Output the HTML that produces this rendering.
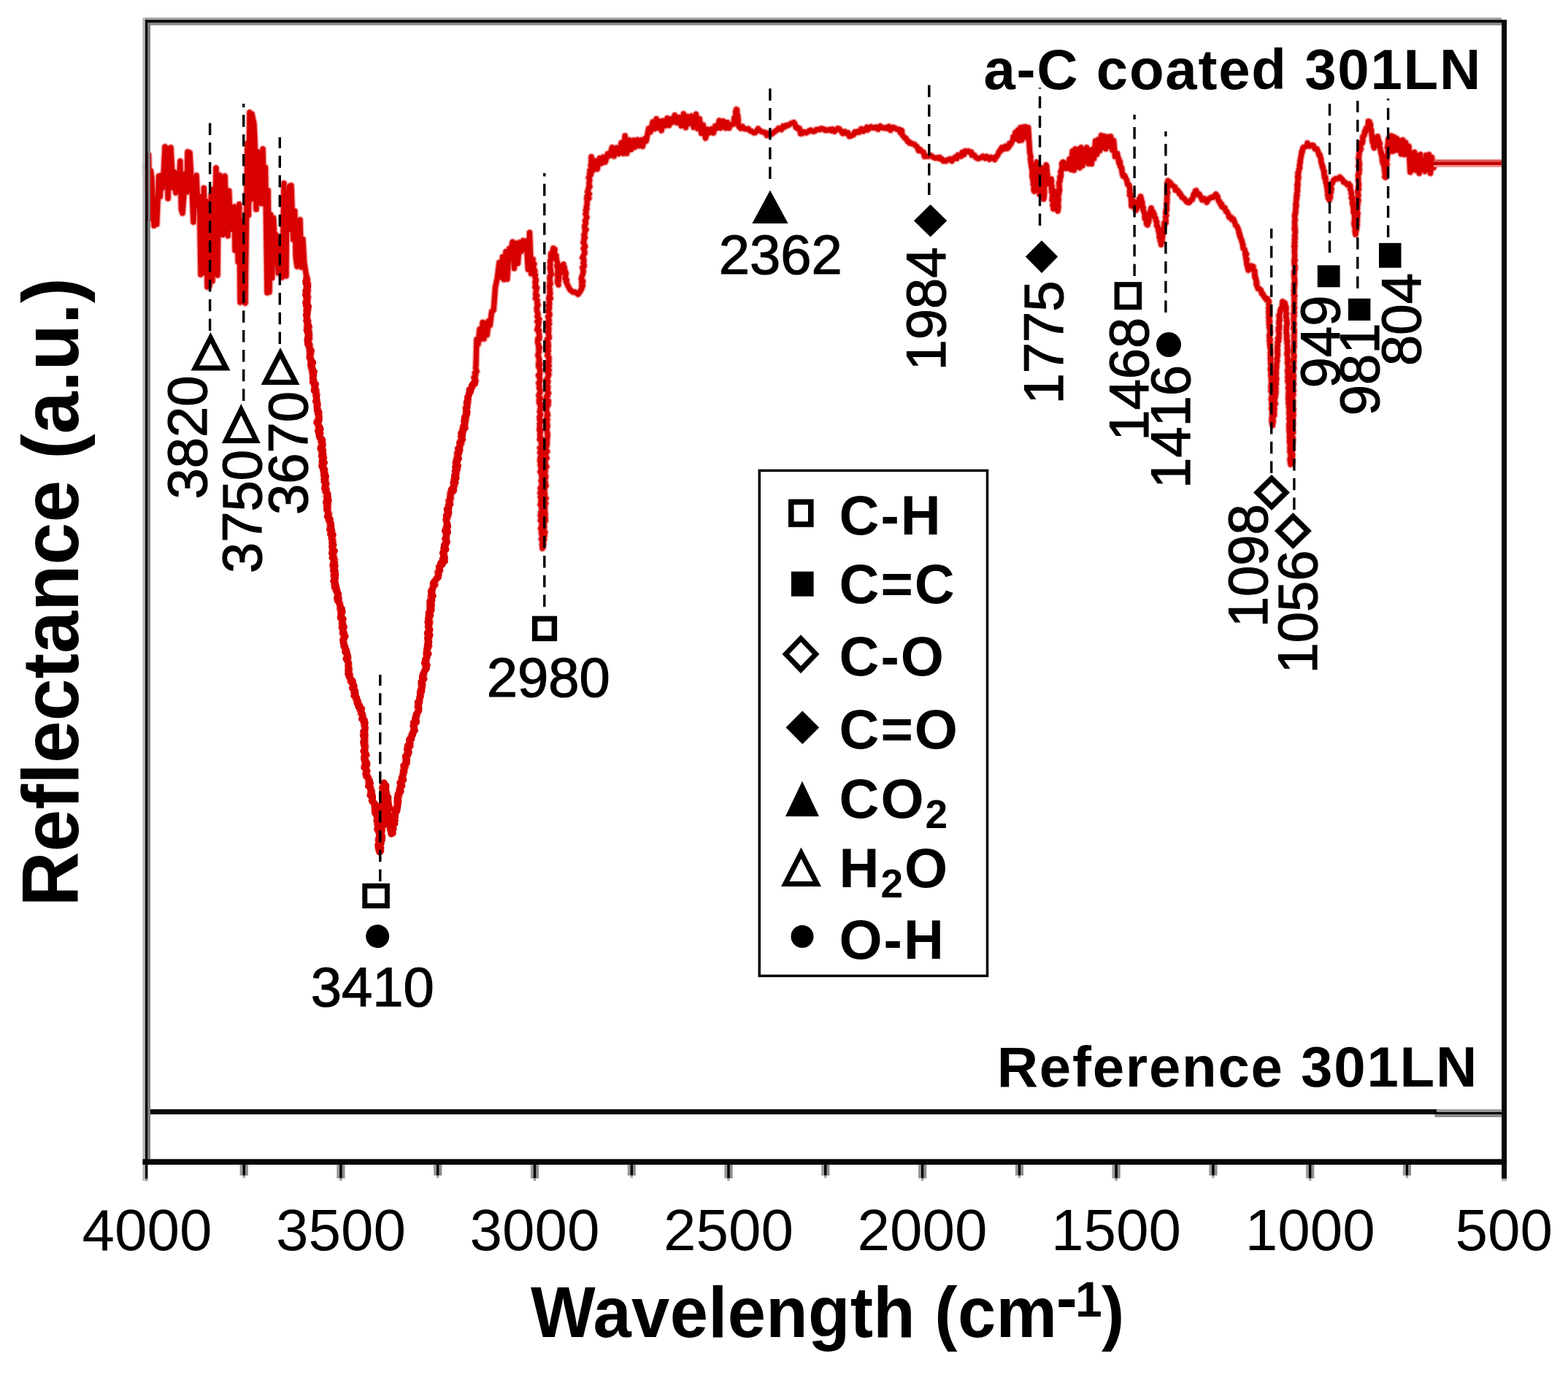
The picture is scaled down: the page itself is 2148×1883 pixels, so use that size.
<!DOCTYPE html>
<html><head><meta charset="utf-8"><title>FTIR spectrum</title><style>
html,body{margin:0;padding:0;background:#fff;width:2148px;height:1883px;overflow:hidden}
svg{display:block}
text{font-family:"Liberation Sans", Arial, sans-serif;fill:#000}
.tk{font-size:80px;text-anchor:middle}
.xt{font-size:94px;font-weight:bold;letter-spacing:0.3px}
.yt{font-size:104px;font-weight:bold;text-anchor:middle}
.tl{font-size:78px;font-weight:bold;text-anchor:end;letter-spacing:1.75px}
.an{font-size:76px;text-anchor:middle;stroke:#000;stroke-width:1.2px}
.lg{font-size:76px;font-weight:bold;letter-spacing:2px}
</style></head><body>
<svg width="2148" height="1883" viewBox="0 0 2148 1883">
<rect width="2148" height="1883" fill="#fff"/>
<path d="M200 224.9 L201.9 262.3 L203.6 212 L205 300 L206.5 234.1 L208 246.1 L211 309 L212.4 288.6 L214.7 307 L217.5 241.2 L219.3 269.2 L220.9 240.1 L222.6 257.7 L224.2 236.8 L226 201 L227.9 229.3 L229 203 L230.1 271.8 L232.1 207.3 L234 202 L235.4 227.5 L237.3 257.5 L239.1 235.8 L240.9 264 L242.8 237.7 L244.9 261.4 L246.8 220.7 L248.4 286.8 L250 292 L252.1 265.2 L253.8 237.7 L255.9 263.1 L257 208 L260 209 L261.4 233.6 L263.3 267.5 L265 304 L267.2 265.1 L269 240.2 L271.2 281.7 L273.2 268.7 L275 376 L276.1 270.5 L277.8 374 L279.3 257.5 L280.8 353.1 L282.3 275.3 L284 393 L287 392 L289.2 267 L291 385 L292.2 259.1 L294 338.9 L296 230 L298 377 L299.5 265.4 L301 240 L303.6 280 L305.2 321.5 L306.6 245.9 L308 241 L310 286.7 L312.1 322.9 L313.7 261.2 L315.6 314.2 L317.4 285.8 L318.9 314.3 L320.9 283 L322 343 L324.5 287.2 L326.2 358.8 L327.7 279.7 L329 414 L331.9 302.3 L333 413 L336 415 L339 196 L340.5 294.7 L342 154 L343.9 273.3 L345 156 L348 170 L349.2 196.1 L351 286.8 L353 207.7 L355 277.9 L356.8 237.2 L358.3 278.8 L360 204 L361.8 263.1 L363.5 229.3 L366 401 L367.2 260.7 L369 400 L370.7 293.8 L372.8 380.6 L374.6 298.6 L376 326 L378.1 321.1 L381 374 L382.2 337.1 L384 358.6 L386 380 L387.8 326.8 L389 251 L392 378 L393 266.9 L394.5 315.4 L396.6 254.8 L399 254 L401.6 328.2 L403.8 288.9 L405.2 352.2 L407 365 L408.9 346.6 L411 300.9 L413 366 L414.9 327.5 L416.7 359.1 L420 380 L421.4 383.6 L420.6 386.5 L421.7 387.7 L421 388.4 L421.1 392.3 L421.2 395.5 L419.6 395.9 L421.9 398.7 L420.3 401.9 L419.8 405.9 L422.3 406.6 L421.2 409.3 L420.9 412.1 L419.5 413.8 L419.7 419 L420.8 419 L422.3 424.3 L420.7 423.7 L419.8 426 L421 430 L420.6 431 L420.3 434.1 L421.6 438.9 L422.4 439.7 L421.3 442.6 L421.3 444.4 L420.3 446.7 L423.7 448.7 L422.1 453 L423.6 454 L421.6 456.6 L422.1 459.8 L424.3 463.8 L424.1 463.3 L421.2 468.3 L423 470 L424.8 472.7 L424 473.9 L423.6 480 L425.5 482.6 L426.4 483.3 L425 487 L424 488.3 L425.9 492.8 L427.9 495.5 L427.2 498.2 L427 500 L425.9 503.4 L428 505 L427.3 509 L429.1 509.3 L427.6 511.6 L429.7 515.7 L428.1 516 L429.9 520.3 L429.7 521.5 L430.8 523.2 L430 527.4 L431 530 L433.1 533.1 L433.2 535.1 L431.3 536.8 L434.4 541 L432.4 541.1 L433.6 546.1 L434 548 L433.9 549.8 L434.9 554.9 L433.5 554.3 L434.1 558.4 L435.5 560.2 L436.1 564.9 L435.2 565.6 L437 568.7 L436.7 571 L434.7 575.6 L435.1 579 L436 580 L436.4 581.4 L435.8 584.7 L437.8 589.1 L436.3 589.6 L437 594.2 L437.1 593.4 L437.2 597.1 L440.6 601.4 L440.4 604.3 L440 605 L441.8 606.9 L439.3 611.6 L441.5 610.8 L441.4 614.6 L440.6 616.9 L440.1 618.2 L440.7 622 L443.4 623.6 L443.6 626.4 L441.6 631.2 L443.5 632.3 L440.9 634.9 L442.3 639 L443 640 L442.2 642 L445.1 643.3 L443.7 648.6 L445.3 648.3 L443 650.9 L446.5 654.1 L446.2 658.9 L445.1 659.2 L447.6 662.9 L445.5 665.8 L446 666.7 L447 670 L445.4 673.4 L448.8 675.5 L449.1 675.8 L446.7 679.9 L449.5 684.1 L447.6 684.1 L447.9 687.5 L449.9 688.9 L449.6 693.4 L449.8 696 L449.2 696.9 L449 700 L448.9 702 L451 703.5 L449.4 708.4 L450.1 708.4 L449.8 712.7 L452 715 L451.7 719.2 L454.1 721.8 L452.3 721 L452 725 L454.6 727.3 L453.3 729.7 L455.1 733.1 L455 735 L456.1 738.7 L455.9 738.6 L456.7 741.8 L455.9 744.5 L456.7 746.4 L455.1 749.1 L454.9 753.9 L456.6 754.4 L456.1 759.3 L456.7 759 L457.9 763.1 L457 765 L458.9 766.2 L457.1 771.4 L458.5 774.4 L455.7 774.8 L456.1 777.1 L459.2 781.1 L459.2 783 L459 785.9 L457 789.7 L459.5 789.9 L458 794 L458.9 797 L458.1 798.7 L458.4 800.6 L459.4 804.6 L461.4 805.8 L459.7 808.8 L462 812 L463.2 813.4 L462.5 816.1 L464.8 819.9 L462.7 820.9 L464.5 825 L465.9 826 L466 830 L465.2 833.5 L466.4 834.7 L466.4 839.9 L466.8 841.2 L467.4 843.4 L469.6 848.3 L468.1 848.2 L469 852 L470.1 853.5 L467.8 858.6 L469.6 860.9 L469.8 863.7 L470.3 863.6 L469 867.6 L471 870 L471.8 874.2 L470.1 875.9 L471.4 878.2 L470.9 880.1 L472.5 885.1 L471.3 886.3 L473 889 L474.6 893.3 L472.9 893 L476.1 898.7 L474.9 898.1 L477 901.9 L476 905 L477.8 907.9 L477.8 908.8 L478 911.5 L477 916.2 L478.9 916.4 L478 920 L477.7 922.1 L479.4 924.6 L478.6 926.6 L481.5 931.4 L479.7 932.7 L482 935 L483.5 935.9 L484.4 938.8 L484.2 943 L484.9 944.7 L485 948 L485.7 950.7 L486.7 953.4 L487.8 955 L487.3 958 L490 960 L490.8 961.5 L492.6 966 L492.3 966.3 L493.2 968.6 L492.8 972.3 L495 975 L494.1 977.4 L496.2 978.5 L497.3 981.3 L498.2 986.4 L498 988 L498.2 989.1 L498.3 993.1 L500 994.9 L499.8 1000.8 L499.5 1002.9 L497.6 1006.2 L498.8 1008.9 L499 1010 L500.6 1011.3 L500.3 1016.6 L497.8 1017 L500.4 1018.8 L501.1 1021.7 L500.9 1023.7 L499.9 1029 L500 1030 L499.1 1031.7 L500.2 1034.5 L498.7 1036.5 L499.2 1041.8 L501.2 1044.2 L499.5 1046.4 L499.4 1048 L501.4 1049.9 L501 1053 L502.9 1055.6 L502.4 1059.3 L501.2 1062.1 L503.7 1062.4 L504.8 1064.4 L506.1 1067.9 L504.4 1071.1 L505.2 1071.4 L506 1075 L507.4 1075.9 L508.2 1079.1 L508 1084.2 L508.3 1085.6 L507.8 1085.7 L507.3 1088.7 L509.9 1092.3 L510 1095 L511 1098.9 L510.7 1099 L513.6 1100.8 L514 1105 L512.7 1107 L513.6 1109.5 L514.5 1112.8 L516.3 1113.9 L516.9 1117.4 L517 1120 L515.9 1124.1 L516.6 1123.7 L516.3 1128 L519.3 1131 L517.9 1131.7 L516.7 1135.5 L519 1137 L519 1140 L519.6 1142.5 L520.8 1146.2 L518.4 1149.6 L517.8 1150.9 L519.2 1152.6 L518 1157.2 L517.9 1159.1 L521.4 1160.3 L518.8 1164.7 L520 1167 L520.2 1164.9 L521.6 1160.5 L520 1158.4 L519.2 1157.8 L522.1 1154.6 L519.5 1152.4 L522.4 1148.4 L522.6 1145.7 L520.9 1141.8 L521.2 1138.9 L521.8 1138.8 L523.3 1136.5 L523.5 1131.8 L523 1130 L523.3 1127.2 L524.3 1125 L522.5 1122.9 L525.2 1118.9 L525 1115.6 L522.9 1113.9 L524.8 1113.9 L524.9 1109.2 L525.5 1106.7 L523.4 1106.2 L524.9 1103 L525.2 1101.5 L524.6 1098.4 L525.5 1096 L524.7 1093 L525.3 1089 L524.2 1087.6 L523.8 1086.1 L524.2 1080.4 L524.2 1081.1 L525.2 1075.8 L524.2 1072.9 L526 1072 L527.3 1075.1 L527.9 1078 L526.2 1080 L527.8 1083.4 L530 1086.3 L527.9 1088.8 L530 1090 L531.8 1094.1 L529.1 1094 L529.4 1096 L532.3 1101.3 L531.8 1103.9 L532.1 1104.5 L530.5 1106.4 L533.1 1109.3 L531.8 1112.6 L531 1114.6 L533 1118 L532.6 1121.4 L533.2 1122.7 L535.7 1126 L535.6 1129.1 L533 1131 L534.8 1135 L534.8 1137.4 L535.8 1138.3 L536 1142 L537.8 1138 L538.2 1135.8 L535.7 1133.4 L538.9 1133.7 L536.7 1129.5 L539 1128.1 L538.4 1124.5 L540 1122 L539.9 1120.5 L540 1118.3 L540.6 1113 L542.5 1111.3 L540.8 1109.2 L541.2 1107 L543.8 1104.4 L544 1100.1 L544 1098 L544.2 1095 L546.5 1091.4 L547.1 1088.6 L545.2 1086.9 L548.3 1085.1 L547 1084 L548 1080 L547.6 1077.3 L549.3 1075.8 L550.6 1072.8 L549.7 1069.1 L549.6 1068.4 L552 1065.4 L552 1062 L551.4 1059.1 L554.1 1056.9 L552.4 1053.7 L555.7 1050.2 L553.7 1047.7 L556.2 1047 L556 1043 L555.3 1039.3 L556.1 1037.4 L557.6 1034.3 L557.4 1031.9 L560.2 1031.3 L559 1028 L558.1 1027.1 L558.7 1022.4 L562.5 1021.3 L562.1 1017.5 L560.8 1015.6 L561 1011.5 L563 1010 L563.4 1005.9 L564.2 1006.2 L566.1 1002.8 L566.7 1000.3 L567 998 L566.2 995.7 L567.7 993.5 L570 989.7 L569.3 988.2 L569.2 983.7 L570 982 L571.3 980.5 L572 977.1 L572.8 974.1 L572.5 970.5 L571.8 968.3 L573 965 L572.1 962.2 L575 960.8 L575 956.6 L574.7 954.8 L575.9 952.2 L576 950 L577.1 949 L575.7 945.4 L578.3 941.9 L577.7 941.4 L576.5 937.3 L577.4 935.6 L579 932 L581.2 929.3 L578.8 926.7 L580.9 924.4 L581.4 921.3 L582 918 L583.6 915.5 L582.5 914.5 L582.2 910.9 L583.3 908.7 L582.8 906.9 L584.1 901 L585 900 L584.4 897.1 L583.6 894.7 L585.3 893.2 L585.3 889.2 L585 888.4 L587.8 885.1 L585.4 883.6 L586.2 879 L585.5 878.5 L587 875 L588.2 873 L587.1 870.2 L586.3 869.2 L586.9 865.5 L588.6 863.6 L587.5 859.3 L587.9 856.2 L589 854.5 L589.2 851.7 L588 850 L587.8 846.6 L588.1 843.9 L586.8 843.3 L588 839.1 L588.3 837.4 L588.9 835.5 L590 832 L591.1 831.3 L588.2 828.7 L590 825 L591.8 823.5 L589.5 821.2 L591.6 815.8 L589.7 816.6 L592.4 811.6 L590.8 808.7 L591.7 808.5 L593 805 L593.4 801 L596.5 800.6 L594.8 798.2 L597 794 L598.2 792.3 L599.3 790 L600.6 787.1 L599.3 783.8 L601.4 781.3 L601.9 779.1 L603 775 L605.2 771.7 L607 770 L606.4 766.2 L607.6 763.4 L607.9 761.2 L608.3 760 L608.8 758.8 L607.2 756.2 L609.2 752.7 L610.3 751.2 L609.5 747.2 L612 743.5 L611.2 743 L611 740 L609.4 737.9 L611.9 736.6 L610.7 734.2 L611.4 729.9 L612.9 725.8 L612.4 725.5 L611.1 723.8 L611.3 719.9 L612 718.5 L612 715 L611.1 712.3 L612.1 710.2 L613.7 706.8 L613.8 704.7 L612.8 701.7 L613 700 L613.5 699.2 L614.6 696.1 L613.9 691.8 L614.3 690.3 L616 688.5 L614.3 685.8 L617.9 682.7 L617 680 L616.2 676.9 L616.8 674.1 L620.9 673.2 L620.8 671.4 L621 668 L622.9 665.8 L622.3 663.3 L623 660.6 L623.4 656.7 L623.7 655 L624.5 651.1 L624 650 L623.2 645.8 L625.6 646.5 L625.5 642 L626.4 641 L625.7 636.6 L625.1 634.7 L625.4 632.3 L626.9 631.6 L625.1 627.7 L627 625 L625.8 621.1 L629.1 620.3 L630 617.3 L627.3 614.6 L629.8 614.1 L630 610 L632.3 607.3 L630.8 603.4 L632.2 601.2 L631 598 L631.1 597.8 L632.1 596.3 L634 592 L633.3 590.3 L634.2 584.3 L637 582.1 L637 580 L638.1 576.4 L636 576 L638.7 573.8 L639 568.5 L639 568.3 L638.7 566.6 L638.2 564.2 L640.2 558.2 L638 558 L640 555 L641.6 550.7 L640.3 550.2 L640.3 547.8 L642 542.1 L642 541.1 L643 538 L643.9 536.1 L644.1 534.1 L646 531 L648.1 527.7 L648.4 526.5 L650 523 L651.8 521.5 L650.7 517.1 L649.1 517 L651.6 514 L650.5 510.6 L653.1 508.9 L651.9 504.4 L651.5 504 L652 500 L653 464.7 L655 471.4 L657.1 450.7 L659.2 464.4 L661.2 441.4 L663 464 L664.8 442.2 L667.2 458.8 L669.4 439.5 L671.3 445.7 L673.6 426.6 L676.2 425 L678.5 393.8 L681.3 380.5 L683.9 359.6 L686.4 379.7 L688.5 351.7 L690.4 382.8 L693 344.8 L694.9 382.3 L697.6 340.4 L700.1 341.6 L702.1 331.3 L704.4 367.6 L706.6 333 L709.4 360.7 L711.7 331.9 L714.5 344.2 L716.6 329.5 L718.8 340.6 L721.1 330 L723.4 369.1 L725.5 318.6 L727.7 374.8 L730 355 L729.9 358.1 L730.9 361.3 L731.9 361.8 L729.6 364.2 L731.3 367.8 L732.8 371.2 L730.6 373.6 L733.4 376.2 L732.9 376.8 L733 380 L734.3 383.5 L733.9 386.3 L733 386.2 L733.8 391 L732.9 393.3 L735.4 394.1 L734.5 398.1 L734.2 399.1 L733.7 403.3 L735.6 404.9 L733.5 408.5 L735 410 L736.1 411.6 L735.8 416.3 L737 417.6 L735.9 420.3 L735.3 421.5 L735.5 425.6 L736.3 427.7 L737 430 L736.7 432.6 L736 433.5 L738.7 437.1 L735.9 440.4 L738.2 441.4 L737.6 444.5 L737.4 446 L735.9 451.6 L738.6 452.5 L737.7 454.2 L738.4 457.3 L739 460.9 L738.7 464 L736.9 463.5 L736.8 466.5 L736.5 468.6 L738 473.7 L737.8 476.4 L739.3 476.1 L738 480 L738.4 482.2 L736.9 486.5 L737.4 487.7 L738.7 491.5 L738.9 492.2 L738.2 493.9 L739.9 499.1 L737.6 498.5 L737.8 502 L739.9 506.3 L739.8 506.1 L739.7 510.7 L739.3 514.1 L737.5 513.9 L739.8 518.9 L739.6 519.4 L739.4 523.3 L737.9 524.4 L738.4 526.3 L739.2 528.9 L738.5 531.4 L739.9 533.4 L740.1 536.5 L738 541.4 L738.7 543.9 L740.8 546.2 L738.5 547.3 L738.5 551.4 L740.9 552.9 L739.7 554.5 L741 557.4 L740 560 L740.4 561.4 L739.2 563.6 L740.8 567.7 L739 571.2 L739.4 572.2 L739.1 574.3 L741.3 577 L739.2 580 L739.7 583.8 L739.1 586.5 L738.9 588.8 L740.9 589.1 L740.3 591.8 L739.7 594 L740 599.1 L742.1 601.4 L739.2 601.8 L741.8 603.6 L741.3 606.8 L742.2 608.5 L741.6 612 L739.5 613.4 L741.8 617.6 L739.7 619.8 L742.1 621.6 L741 623.8 L739.8 628.4 L741.6 629 L739.6 631.2 L741.3 635 L740.2 636.6 L741 640 L741.4 643.2 L742.1 645.3 L740.1 646.1 L741.9 649.7 L741.9 651.1 L742.2 654.5 L742.3 658.7 L741.2 658.4 L742.6 662.4 L742.5 664.3 L740.3 668.6 L740.9 668.9 L741 672.8 L739.9 675.1 L741.3 677.6 L740.3 680.7 L742.5 683.7 L741 685.7 L741.2 688.3 L740.2 691.2 L743.1 692.5 L741.7 695.1 L741.8 696 L743.2 699.1 L740.8 701.2 L741 706 L740.3 706.2 L742.5 709 L740.4 712.8 L742.2 715.1 L742.6 716.2 L742 720 L743.3 723.3 L740.7 724 L742.2 727.8 L741.6 729.1 L742.1 731.8 L742.8 736.7 L741.5 738.3 L743.5 739.6 L743.8 744.7 L742.5 745.6 L744 748.5 L743 751 L743 749.7 L744.6 745.2 L743.2 742.5 L744.1 741.9 L745.6 739 L745 735 L746.1 733.6 L743.7 730.1 L746.7 728.9 L744.5 724.8 L745.8 722.1 L745.5 718.6 L745.3 717.5 L744 713.8 L747.1 713.4 L747.1 710.4 L746.7 708.7 L747 703.5 L746.3 701.8 L746.5 699.3 L746.1 698.9 L746.5 694.2 L746.2 692.3 L747.6 689.3 L745.6 688 L745.1 685.3 L747.9 682.5 L745.7 679.9 L746.6 676.4 L745.4 673.8 L746 672.2 L746.1 669.2 L745.5 667.6 L748 665.4 L747.2 663 L747 660 L746.1 658.2 L747 655.2 L747.6 652.4 L746.7 649.2 L746.5 647.5 L747.1 645.3 L745.9 642 L748.7 639.2 L747.8 637.5 L747 636.6 L747.1 633.4 L746.8 628.6 L749.1 627.3 L746.6 624.6 L747.9 623.3 L746.9 619.1 L749.7 618.3 L747.2 614.5 L747.9 613.1 L748.8 611.1 L749.5 607.6 L749.3 605.8 L749.5 602.4 L749.6 600.7 L750.1 596.3 L750 593.4 L749.8 592.8 L749 590 L749 589 L749.3 584.7 L750.1 583.7 L749.5 579.6 L749.1 577.4 L750 574.3 L749 572.7 L749 569.4 L750.4 568.6 L749.5 564.8 L748.5 561.9 L748.5 560.2 L749.9 556.2 L751 554.4 L750.8 553.6 L751.3 549.1 L749.6 548.8 L748.3 543.6 L750.2 542.5 L750 540 L751.4 538.4 L750.2 536.6 L750.2 532.6 L750.7 529.6 L749.7 527.8 L749.7 526.4 L750.8 522.6 L749 519.6 L750 517.7 L750.6 516.2 L751.9 512.5 L750.2 510.4 L752.1 507 L750.6 506 L749.5 501.9 L752.1 501 L750.6 496.3 L751.9 495.6 L751.7 494.1 L752 489.7 L749.7 486.8 L750.8 485 L749.8 481.5 L751.3 480.3 L750.4 479.1 L751.4 473.5 L750.7 473.4 L751 470 L750.5 468.1 L749.6 464.4 L752.3 462.8 L751.8 459 L751.4 457.7 L750.7 455.5 L751.6 454.1 L751.8 449.7 L750.4 446.4 L752.5 443.7 L750.5 441.4 L751.9 441 L752.3 438.5 L750.6 433.4 L752.9 431.9 L752.8 429.5 L751.2 426.8 L751 426.3 L752.6 422 L752.3 419.6 L751.1 418.7 L752.8 416.5 L752.4 412.9 L751.9 408.5 L754.2 408.6 L752.3 406.3 L753.9 401.9 L753 400 L753.4 398.9 L753.2 396.2 L752.5 391.8 L754.1 388.7 L752.9 388.1 L753.6 385.3 L753 380.7 L753.4 378.1 L755.5 375.8 L754.3 372.7 L754.3 370.9 L754 367.3 L753.2 367.1 L754.1 362.6 L753.7 360.1 L753.9 356.7 L755.4 355.1 L755 353 L754.5 351.1 L754.9 347.1 L757.9 344 L757.2 343.7 L758 340 L760 341.4 L759.5 345.7 L760.6 349 L762 350 L761.3 353.9 L762.4 354.1 L762.4 356.3 L763.4 359.2 L764.2 362.8 L762.7 364.2 L763.7 366.6 L764.7 368.8 L763.7 372.6 L763.1 375.9 L763.7 378 L764.5 379.4 L764.1 381.2 L763.6 386.1 L764.2 388 L765 390 L764.1 387.7 L765.3 385 L765.5 381.1 L765.9 379.1 L765.7 378.2 L766.6 374.7 L768.9 373.4 L768 370 L770.6 368.5 L769.5 364 L772 362 L770.9 365.1 L773.4 366.6 L773.1 370.2 L774.4 371.4 L775.3 374.3 L775.1 376.3 L773.9 381.2 L776.3 383.1 L776 385 L775.5 386 L776.9 389 L778.4 392.1 L780 395 L781 396.9 L785 400 L787.8 400 L790.8 402.2 L792 403 L794.4 399.5 L795.1 398.3 L797 395 L796.7 390.9 L798.4 390.9 L796.7 386 L798.7 385.3 L796.3 381.7 L796.6 380.9 L797.1 378.8 L798.9 373.7 L798.9 372.2 L799.2 371.1 L797.9 366.2 L800.1 364.8 L800.2 363.1 L799 360 L799.9 358.6 L799.7 354.8 L797.9 353.1 L799.3 350 L801 346.3 L800.6 343.5 L800.5 343.5 L799.2 340.1 L801.6 337.9 L800.4 334.2 L799 332 L800.2 329 L800 326.3 L801.4 325.5 L800 321.7 L801 320 L801.3 317.2 L802.9 314.3 L801.1 313.4 L800.8 309.7 L801.6 307.9 L802.5 305.1 L801.6 302.2 L803.2 299 L803.9 297.5 L802.1 293.2 L803.1 290.3 L802.4 287.9 L804 286 L803.2 284.1 L804.3 279.6 L804.1 278.2 L804.4 274.7 L803.7 271.6 L806.9 271.4 L804.2 268.7 L807.3 265.6 L804.7 262.8 L805.9 259.3 L806.5 256.1 L807.9 255.6 L807.2 254 L807 250 L807.8 246.7 L806.8 243.8 L806.4 243.4 L809.3 239.3 L807.5 237.9 L809.9 236.4 L808 233.4 L810.5 230.8 L809.1 226.5 L810 225 L810 214.7 L812.3 233.4 L815.1 220 L818.1 231.6 L821.4 216.6 L823.9 223.8 L826.2 215.1 L829.1 222 L832.4 210.5 L835.3 213.4 L838.5 201.9 L841.3 213.9 L844.6 202.3 L847.8 210.7 L851.2 195.4 L854.2 210.3 L856.2 185.9 L858.8 210 L862 191.7 L865 204.7 L868 192 L870 201.5 L873.1 191.3 L875.9 199.8 L878 191.8 L880.4 200.5 L882.8 190 L885.1 193.4 L888.6 176 L891.2 180.6 L894.2 166.9 L897.1 176.5 L899.2 162.7 L901.6 175.1 L904.1 166.2 L906.1 178.7 L908.5 165.4 L911.5 172.4 L914 161.9 L916.6 171.8 L918.8 162.7 L921.1 167.5 L924.5 157.7 L927.2 168.1 L930.7 160.7 L933.1 172.2 L936.5 155.9 L939.4 174.6 L942.2 159.6 L944.3 169.4 L947.1 158.8 L950.2 174.3 L953.5 156.3 L955.6 176.2 L958.3 162.6 L960.7 182.5 L963.3 171.2 L966.5 189.2 L969.6 177.1 L971.8 182 L974.9 176.5 L977.3 182.1 L979.9 172.4 L982.8 175.2 L985.4 165.1 L987.5 175.4 L990.8 165.8 L994.2 175.5 L996.6 167.7 L998.9 175.5 L1000 172 L1003 170.1 L1005 170 L1005.2 168.3 L1005.6 167.7 L1005.8 161.6 L1006.7 162.7 L1007.5 161.1 L1008 160.3 L1007.8 156 L1007.7 153 L1008.7 149.8 L1009 150 L1009.6 150.3 L1009.5 156.6 L1009.2 153.9 L1010 156.8 L1010.7 157.9 L1011.2 164.4 L1011.4 164.2 L1010.8 167.6 L1011.5 168.4 L1011.5 170.6 L1012 173 L1014.6 175.7 L1017.3 173.3 L1019 176 L1020.9 176.5 L1023.5 176.8 L1025.1 176.2 L1027.5 179 L1030 180 L1032.8 181.7 L1034.6 181.7 L1036.7 179.4 L1038.5 176.1 L1040 178 L1042 179.6 L1043.2 180.4 L1046 180.9 L1047 182 L1049.1 181.7 L1050.5 185.5 L1051.9 182.6 L1054.6 185 L1056.6 183.5 L1057.5 183.3 L1059.7 181.6 L1061.5 180.1 L1063.4 178.7 L1065.4 177.4 L1066.6 175.5 L1069.8 176.6 L1070.5 177.4 L1072.7 172.7 L1075 174 L1077.1 171.6 L1079.1 172 L1080.8 171 L1082.7 169.6 L1085.4 168.4 L1087.2 167.6 L1088.6 169 L1090.3 174.5 L1092 174 L1093.4 176.9 L1095.1 175.6 L1096.7 180.6 L1096.6 182.9 L1098.6 183 L1100.9 180.6 L1104.3 182 L1106 181 L1108.6 178.9 L1110.8 178.2 L1112.2 179.6 L1114.8 180 L1116.1 179.7 L1118.4 177.4 L1121.3 177.2 L1123.6 177.4 L1125 176 L1128 176.6 L1130.4 178.4 L1131.5 178 L1134.2 178.3 L1136.8 177.2 L1139.1 179.1 L1140.3 176.9 L1143.3 180.1 L1145 178 L1147.5 175.9 L1149.5 176.4 L1151.5 178.7 L1153.4 181.2 L1154.5 182.7 L1157.2 180.2 L1158.3 182.1 L1161.1 183.7 L1161.8 181.7 L1163.6 186.7 L1166 186 L1167.3 185.1 L1169.3 184.6 L1171.2 180.6 L1173.8 181.4 L1175 180 L1177.3 181 L1179.7 176.4 L1180.7 176.5 L1183 179.7 L1185 177.2 L1187.5 174.3 L1188.5 178 L1191.3 175.3 L1193 173.7 L1195 175 L1197.7 174.4 L1199.9 175.6 L1200.7 174.1 L1203.1 177 L1205.9 172.6 L1207.3 174.3 L1210 175 L1211.9 175.6 L1213.8 174.6 L1215.2 175.9 L1217.7 173.2 L1219.9 178.4 L1222 176 L1223.3 174.4 L1226.3 175.3 L1227.6 176.7 L1229.6 177.3 L1232 177.2 L1233.3 181.5 L1235.3 178.7 L1235.8 184.5 L1237.6 186.5 L1238.5 187.7 L1239.5 189 L1241 189.3 L1243.4 193.7 L1245.3 194.1 L1246 196 L1248 196 L1250.4 197.1 L1252.2 197.4 L1254 199.3 L1255.7 200.4 L1256.5 201.5 L1258.5 206.5 L1260.4 204.8 L1262 207 L1263.3 207.4 L1265.2 208.6 L1266.4 214.2 L1268.9 214 L1271 214.1 L1273.4 213.8 L1275 212.9 L1277.5 214.6 L1280 216 L1282.4 216.6 L1284.7 215.8 L1286.7 217.3 L1287.3 215.5 L1290 217.5 L1292.1 220.5 L1293.8 219.8 L1295.9 220.7 L1297.3 219.1 L1300.6 218.5 L1301.6 217.6 L1304 220.5 L1305.1 218 L1307.6 216.4 L1308.7 215 L1310.7 217.1 L1312.4 212.3 L1313.8 212.6 L1316.3 214 L1318.2 208.5 L1320.6 211.7 L1322 206.8 L1323.9 208 L1326.5 206.8 L1328.8 208.9 L1330.5 208.1 L1331.3 212.3 L1333.5 211.9 L1335.2 212.9 L1335.9 214.7 L1338.3 216.5 L1339.7 217.2 L1342.2 216.5 L1344.8 215.2 L1346.6 214 L1349.5 216.8 L1351.7 214.2 L1353 216.5 L1355.6 218.2 L1357.6 215.4 L1359.7 216.1 L1362.7 218.5 L1364.2 214.5 L1365.4 214.4 L1366 213.4 L1367.1 211.9 L1368.3 208.4 L1369.6 206.2 L1370.7 207 L1371.9 202.8 L1372.5 201.9 L1375.4 204.1 L1377.3 200.2 L1379.9 203.4 L1382.3 200.9 L1382.8 196.4 L1384.5 197.8 L1386 194.3 L1387.5 191.7 L1388.2 189 L1388.1 187.3 L1390 187.2 L1391 181.2 L1392.9 190.4 L1394.5 178 L1396.2 192.6 L1397.9 174.7 L1400 191.8 L1401.5 174.1 L1403.2 186.2 L1405 173.6 L1406.8 188.8 L1408.6 174.6 L1410.7 208.9 L1412 215 L1411.5 217.8 L1412.2 220.9 L1411.9 221.3 L1412.7 225.2 L1413.7 225.7 L1412.8 225.7 L1413 228.7 L1413.2 229.5 L1414.2 233.7 L1414 235 L1413.9 239.6 L1414 239.5 L1414.1 243.1 L1415.5 242.1 L1415.6 247.1 L1415 246.6 L1415.6 251.6 L1415.3 252.6 L1416.2 253.4 L1416.4 257.8 L1416.1 259.8 L1416.5 261.4 L1417 262 L1417.7 258.3 L1417.9 260.6 L1417.1 253.5 L1417 256.5 L1417 254.1 L1417.3 251.2 L1417.4 246.3 L1418.5 243.9 L1418.1 246.2 L1418.8 244 L1419.4 237.6 L1418.4 239.5 L1419.3 233.6 L1419.1 232.6 L1419.1 229.9 L1418.6 232.6 L1419.3 230 L1419.1 225.9 L1419.3 223.6 L1420 222 L1419.7 225 L1419.8 227.2 L1420.5 226 L1420.5 230 L1421.6 231.2 L1420.6 236.4 L1421.9 237.2 L1421.1 236.3 L1421.3 237.8 L1421.1 242 L1421.9 244.3 L1422 243.5 L1422.7 248.8 L1422.6 250.3 L1423 254.5 L1423.5 255.1 L1422.9 255.1 L1423.1 260.5 L1423.3 259.4 L1423.5 260.1 L1424.6 261.4 L1424 266 L1424.3 266.2 L1423.9 262.6 L1424.3 258.7 L1424.2 256 L1425.4 257.5 L1425.7 251.7 L1425.5 251.1 L1425.6 250.3 L1425.2 250.5 L1424.9 247.3 L1426.4 244.1 L1426.1 244.6 L1425.7 240.7 L1426.7 237.4 L1426.8 235.4 L1426.7 234.6 L1427.1 231.1 L1427 230 L1427.3 232.2 L1426.8 234.6 L1427.1 238.1 L1427.5 239.2 L1427.7 239.9 L1427.4 240.1 L1428.7 244.1 L1428.2 246.1 L1428.8 246.6 L1427.9 251.7 L1428.5 252.7 L1429.2 256 L1429.4 253.6 L1428.8 259.7 L1429.7 258 L1428.7 260.7 L1428.8 263.3 L1430.1 266.1 L1429.6 265.9 L1429.7 272.6 L1430 272 L1430.4 269.7 L1430.2 269.6 L1430.8 264.2 L1430.8 263.3 L1430.7 260.6 L1430.6 259.2 L1430.7 255.5 L1430.6 256.4 L1430.5 252.3 L1431.7 250.8 L1431.2 248.7 L1432.1 245.9 L1431.9 247.9 L1431.3 243.6 L1432.4 242.6 L1431.9 237.6 L1432.1 237.3 L1432.7 234.9 L1432.3 234.8 L1433.1 231.2 L1432.6 230.4 L1433.5 226.4 L1433 226 L1434 229.1 L1433.3 230.9 L1433.4 229.8 L1434.3 233.4 L1434.2 236 L1435 239.3 L1433.9 240.5 L1434.8 241.8 L1435.6 243.6 L1435.3 248 L1435.4 248 L1435.8 251.7 L1436 252 L1437.3 251.5 L1437.8 246.1 L1439.3 247 L1440 245 L1440.6 248.5 L1439.7 247.6 L1439.8 252.8 L1440 251.1 L1441.2 255.6 L1440.2 258.2 L1441.4 259.3 L1440.5 262.4 L1441.2 263.9 L1442.3 267.1 L1442.2 265.7 L1441.5 269.7 L1441.2 274.2 L1441.7 272.5 L1442 274.5 L1443 278.1 L1442.6 279.4 L1442 280.9 L1443.4 285.5 L1443 286 L1443.8 282.7 L1443 279.7 L1443.8 279.3 L1443.9 277.9 L1444.4 275.3 L1445 272.4 L1445.4 272.3 L1444.3 269 L1445.3 267.5 L1445.6 265.1 L1445.4 265.5 L1446 262 L1445.9 265.2 L1446.9 266.6 L1446.6 270.5 L1446.8 272.3 L1446.4 272 L1447.6 272.1 L1448.2 274.3 L1448 277 L1448.8 281 L1448.8 282.8 L1448.8 285.8 L1448.4 285.4 L1449 289 L1449.7 285.1 L1449.9 283.4 L1448.8 280.8 L1450 283.2 L1449.5 279.6 L1449.4 278.8 L1450.2 272.9 L1449.3 273.7 L1449.4 272.4 L1450 267.2 L1450.6 265.6 L1450.7 262.7 L1451.4 261.5 L1451.4 258.6 L1451.4 260.8 L1450.9 253.9 L1451 255 L1450.9 252.5 L1450.8 250 L1452 247.8 L1452 244.1 L1452.4 242.1 L1452 242 L1453.1 242.6 L1453.5 238.1 L1452.9 235.2 L1454 234 L1454.7 229.9 L1454.4 231.9 L1455 228.2 L1454.5 224.1 L1455.2 226 L1456 222 L1457.6 222.6 L1458.7 223.6 L1459.2 230.4 L1460 230 L1461.1 230.6 L1462.9 224.3 L1464 225 L1465 217.9 L1467 232.3 L1469.2 206.9 L1471.4 233.1 L1473 204 L1474.7 228 L1476.9 204.5 L1478.9 229.8 L1480.9 202 L1483 226.9 L1485.1 204.5 L1487 221.9 L1488.7 202 L1491.1 224.3 L1493.4 205.8 L1495.3 224.4 L1497 204.3 L1498.7 217.3 L1500.7 192.9 L1502.7 211.5 L1504.7 190.9 L1506.6 206.5 L1508.6 185.5 L1510.3 202.5 L1512.6 186.5 L1514.9 203.9 L1517.2 187.2 L1519.5 200.7 L1521.6 186.9 L1523.8 205.6 L1525.6 192.5 L1527.5 214.4 L1529 210 L1530.6 210.2 L1531 214.7 L1531.7 215.3 L1532.2 220.1 L1533 218.2 L1532.8 223 L1534.5 222 L1534.4 227.3 L1535.3 227.5 L1535.8 230 L1536.5 229.6 L1537.1 233.7 L1536.8 233.9 L1537.5 238 L1538.5 241.2 L1540.5 240.2 L1541.4 242.1 L1543 246 L1543.5 246.5 L1544.7 252.5 L1546.8 253.5 L1547 254 L1547.2 256 L1547.9 260.1 L1548 260.7 L1547.4 262.7 L1548.6 265.5 L1547.6 267.1 L1548.3 266.2 L1549.5 270.9 L1549.3 270.1 L1549.7 276.3 L1550 277.3 L1550.1 279.6 L1549.9 279.7 L1550 282 L1551.5 281.1 L1552.6 276.3 L1553 275 L1554.2 277.3 L1554.7 277.3 L1555.2 283 L1554.6 285.4 L1555.1 284.3 L1556 288 L1556.6 284.7 L1557.3 286.3 L1558.2 283.4 L1558.4 281.9 L1559.7 279.5 L1560.6 278.3 L1560.4 272.6 L1561.4 274.5 L1561.6 271.4 L1562.5 269 L1563.5 272.6 L1562.6 273.1 L1563.1 273.3 L1564.8 277 L1564.9 279.3 L1564.9 280.1 L1565.4 285.5 L1566.3 284.7 L1565.9 286.7 L1567 290 L1567.9 291.7 L1568.4 295.6 L1568.1 297 L1568.5 299.7 L1569.3 298.8 L1571.1 301.3 L1570.4 306 L1571.6 308 L1572 308 L1572.3 305.9 L1573.6 303.9 L1574.1 300.1 L1574.3 297.9 L1574.3 294.9 L1574.2 297.8 L1575.1 295 L1575.2 290.5 L1575.5 289.5 L1577.1 287.2 L1577 285 L1577.8 289.2 L1579.6 289.9 L1579.3 291.6 L1581 293 L1581.5 297.5 L1582 298.1 L1583.1 298.7 L1583.5 302.4 L1584.8 303.6 L1584.5 308.2 L1584.7 309.6 L1586 310 L1586.7 312.4 L1586.7 315.5 L1587.8 317.4 L1587.9 315.9 L1587.6 318.5 L1589 324.5 L1588.1 325 L1589.2 324.3 L1589.3 330 L1590.1 329.7 L1590.6 331.8 L1590.6 335 L1591 332.5 L1592 331.6 L1592 329.6 L1591.6 329 L1592.5 325.5 L1592.1 320.7 L1592.9 322.1 L1593.5 317.5 L1592.8 316.3 L1594.3 312.3 L1594 312 L1595 308 L1594.9 305.1 L1595.5 304.6 L1597.1 305.3 L1597 300.6 L1596.6 297.6 L1597.9 294.9 L1597.1 294.2 L1596.8 291.2 L1597.4 289.8 L1598.4 287.1 L1597.3 288.4 L1597.8 286 L1598.3 283.7 L1597.9 278.4 L1598.7 278 L1598.5 277 L1598.9 272.9 L1598.4 274.2 L1598.8 268.9 L1599.1 266.7 L1599.4 263.5 L1599.6 264.2 L1599 264.1 L1598.9 258.4 L1598.7 258 L1599.9 256.6 L1599.5 255.2 L1599.1 250.6 L1600.1 252 L1600 247.5 L1601.7 250.1 L1603.4 250.1 L1605.2 253.4 L1606 253.8 L1607.3 254.8 L1609.7 256.1 L1610.3 260.4 L1612.5 260.1 L1614 261.6 L1615.6 265.4 L1616.1 264.2 L1617.3 266.3 L1619.3 270.4 L1620.9 270.7 L1622 272 L1623.8 273.6 L1625.5 276.3 L1628.2 277.5 L1629.7 277 L1630.1 276 L1632.1 273.2 L1633.3 273.3 L1634 271 L1634.8 269.3 L1635 266.5 L1636.9 264.1 L1637.5 261.6 L1638.6 261 L1640.7 266.6 L1641.6 265.1 L1643.1 266.2 L1645 270 L1646.9 273.9 L1648.7 272.1 L1650.1 272 L1651.9 274.7 L1653 277 L1654 275.9 L1655.9 272.3 L1657.5 271.5 L1660 270 L1662 270.3 L1663 269 L1665.6 266 L1666.1 266.6 L1668 269.2 L1668.6 272.4 L1669.5 275.5 L1671 276 L1671.7 279.6 L1673.7 279.8 L1673.6 282.8 L1674.7 283.2 L1676.6 285 L1677.8 284.5 L1679.5 289.7 L1680.8 289.7 L1682 292 L1683.1 294.2 L1683.8 297.4 L1686.1 298.7 L1687.1 298 L1687.5 300.6 L1689.8 300.2 L1690.5 302.3 L1692 306 L1692.9 308.9 L1694.3 309.8 L1694.7 310.4 L1695.8 312.9 L1697 316 L1697.1 319.2 L1698.2 319.7 L1698.2 323.1 L1698.8 322.8 L1700 327 L1701.2 329.3 L1701 330 L1702.4 334.3 L1702.8 335.4 L1702.4 334.9 L1703.1 340.5 L1704.9 341.4 L1704.9 342.1 L1706 345 L1705.8 347.8 L1707.5 348.2 L1706.3 349.6 L1707.1 355.4 L1708.2 355.2 L1707.4 355.5 L1707.8 361 L1708.6 364.2 L1709.7 365.3 L1709.3 367.5 L1709.1 365.9 L1710 370 L1711.1 368 L1711.5 364.7 L1713 364 L1716.8 365 L1716.4 369.2 L1717.9 371.4 L1718.8 370.8 L1718.8 372.6 L1719.3 377 L1718.6 374.8 L1719.1 379.8 L1719.8 378.9 L1720.9 385 L1720.7 383.2 L1721.8 387.8 L1720.9 388.7 L1722 391.7 L1723.4 395.4 L1724.4 395.7 L1725.1 395.3 L1727.4 397.7 L1728 400 L1728.6 402.4 L1729.9 402.3 L1731.7 406.3 L1733 407.8 L1734.9 410.6 L1736.2 409 L1738 413 L1738.4 412.7 L1738.1 416.5 L1738.5 420.1 L1737.8 421.8 L1738.6 422.9 L1737.8 427.1 L1738.6 424.7 L1738.1 431.5 L1738.1 430.4 L1739.1 434.7 L1738.9 436.3 L1738 434.9 L1739.6 440.6 L1738.2 438.7 L1738.6 445.2 L1738.6 445.9 L1739.8 447.7 L1739.8 447.8 L1738.7 448.5 L1739.7 450.9 L1740.1 456.1 L1738.9 458.6 L1738.9 459.1 L1738.9 462.5 L1740.2 465.2 L1738.9 466.8 L1739.8 468.7 L1739.8 469.6 L1740 472.6 L1739.3 470.7 L1740 475 L1740.1 475.9 L1739.9 476.5 L1740.6 478.6 L1740.8 484.7 L1740.2 483.1 L1740.6 485.6 L1740.3 487.1 L1741.2 491.4 L1740.3 491.1 L1740.9 497 L1741.2 495.1 L1740.5 498.2 L1741.2 499.4 L1741 505.8 L1741.3 502.7 L1740.2 505.3 L1741.3 509.8 L1741.1 511.1 L1740.9 513.9 L1741.4 517.5 L1741.6 518.9 L1741.9 521.2 L1741.6 519 L1741.6 525.3 L1741.3 527.4 L1741 529.8 L1741.4 530.6 L1741.2 530.5 L1741.4 532.6 L1741 535.3 L1742.5 538.4 L1742.5 541 L1742.4 544.2 L1742.3 542.5 L1741.6 545.2 L1741.3 546.3 L1742.7 551.9 L1741.9 553.1 L1742.6 555.8 L1742.7 555.9 L1741.7 559.5 L1742.1 560.5 L1742.2 562 L1743.2 562.1 L1742.6 566.6 L1742.7 570.1 L1742.5 572 L1743 574.3 L1742.1 572.4 L1742.5 578.1 L1742.1 576.7 L1743.3 582.5 L1743 582 L1742.8 579.7 L1743.8 579 L1744.2 577.3 L1743.7 572.7 L1743.6 573 L1744.2 568.7 L1745.7 568.7 L1745.3 566.8 L1745.6 565 L1745.4 559.7 L1746 560 L1745.4 555.5 L1746 554.1 L1745.7 553.9 L1747.2 552.9 L1746.2 551.3 L1746.1 545.8 L1746.4 545.4 L1747.1 543.6 L1747.3 539.8 L1747.7 539 L1747.7 535.4 L1747.8 534.4 L1747.9 535.4 L1747.7 530.7 L1746.8 528.2 L1748.3 526 L1748 526.2 L1748.1 522.1 L1747.4 519.6 L1748.8 519.1 L1748.4 518.1 L1747.8 513.4 L1747.6 515.5 L1747.9 514.1 L1748.4 510.8 L1748.1 509.1 L1748.4 504.9 L1748.9 501.6 L1749 501.6 L1748.7 501.1 L1748.9 496.9 L1749.8 494 L1749 492 L1749.4 490.7 L1749.9 489.2 L1750.4 484.9 L1750.2 487 L1749.6 480.7 L1750 479.1 L1750.2 480.2 L1749.7 475.1 L1750.5 473.3 L1750.2 472.6 L1750.1 468.7 L1750.6 468.7 L1751.6 467.1 L1750.4 463.3 L1751.6 463.1 L1751.9 463.1 L1752 456.6 L1752.2 456.7 L1751.2 452.8 L1752.3 451 L1751.2 449.2 L1752.6 448.2 L1752.5 444.2 L1752.1 443.4 L1751.8 443.1 L1752.2 438.3 L1753.3 438.1 L1752.1 433.6 L1753 434.2 L1752.1 431.9 L1753 430 L1753.9 428.1 L1753.6 425.7 L1754.7 424.4 L1754.4 423.1 L1756.2 420.6 L1756.6 416.6 L1757.1 413.5 L1757 413 L1757.8 415.5 L1760.1 414.8 L1760.3 416.6 L1762 421 L1762 421.1 L1761.6 426.3 L1762.3 429.3 L1762.1 430 L1761.5 433.4 L1761.9 433 L1762.4 437.5 L1762.4 439.7 L1762.7 437.7 L1763.1 439.6 L1763.4 443 L1762.2 447.6 L1762.4 446.8 L1762.5 450.1 L1762.1 450.6 L1762.3 455 L1762.1 455.9 L1762.6 457.1 L1763.2 460.5 L1762.5 460 L1762.6 465.8 L1762.7 463.5 L1763.3 467.8 L1764 467.1 L1763 469.7 L1763.6 473.2 L1763.4 477.5 L1763.8 479.4 L1764.3 478.3 L1764.4 481.1 L1763 485.7 L1763.1 483.1 L1763.5 486.5 L1764.6 491.6 L1763.8 491.8 L1764.6 495.3 L1764.3 495.8 L1763.5 496.4 L1764.4 500.2 L1764.7 503.8 L1765 502.2 L1763.7 507.8 L1764.5 506.1 L1764.8 508.5 L1764.1 511.1 L1764.6 514.8 L1763.9 517.1 L1764.9 517.7 L1765 521.5 L1764 521.8 L1765.1 525 L1765.1 524.3 L1765.7 529.5 L1765 530 L1764.6 531.6 L1765.8 532.5 L1765 538.4 L1765.9 536.6 L1765.7 539.3 L1765.6 543.4 L1764.8 542.6 L1765 544.8 L1764.8 546.1 L1765.4 549.6 L1764.9 552.4 L1766.4 554.4 L1765.5 557.1 L1765.7 556.3 L1765.8 557.5 L1766.2 560.2 L1765.8 566.4 L1766.4 567.7 L1766.3 568.7 L1766.5 572.4 L1765.7 573.4 L1765.9 572.7 L1766.8 576.5 L1766.9 580 L1766.6 578.4 L1765.7 582.2 L1766.9 582.8 L1765.9 583.4 L1766.1 589 L1765.9 588.6 L1766.4 593.1 L1767.6 591.5 L1766.3 598.3 L1767.7 596.2 L1766.7 600.1 L1766.7 601.6 L1767.1 602.7 L1766.4 603.8 L1766.7 605.9 L1767.5 611 L1766.9 613.5 L1767.7 613.2 L1767.4 614.4 L1768.2 618.3 L1766.8 618.2 L1767.9 621.4 L1768 622.6 L1768.2 627.6 L1767.1 628.4 L1767.3 631.1 L1768.4 633.5 L1767.5 631.9 L1768 636 L1770.4 633 L1770.7 631.3 L1769.9 627.4 L1770.6 624.9 L1770.7 623.6 L1770.1 622.5 L1770.6 622.1 L1769.8 620.1 L1770.1 615.8 L1770.8 615.9 L1770.8 614.9 L1770.2 609.9 L1771 607.6 L1770.2 605.4 L1771.2 606.5 L1771.1 605.2 L1771.3 599.8 L1770.5 599.9 L1770.1 597.3 L1770.2 592.4 L1770.9 590.9 L1771.6 592.6 L1770.9 587.1 L1770.3 586.7 L1771 583.9 L1771.4 582.8 L1771.5 578.6 L1770.4 578 L1771.1 575.3 L1771.4 573.1 L1770.8 572.4 L1771.5 571.9 L1771 568.2 L1771.9 568.8 L1771.4 562.4 L1771.2 563.2 L1770.9 558 L1772.1 560.6 L1770.7 556.2 L1771.5 553.4 L1770.7 553.7 L1771.8 550.1 L1770.8 547.8 L1770.8 548.8 L1770.7 543.2 L1771.9 540.4 L1770.9 538.1 L1771 538.5 L1772.1 534.6 L1771.1 535.6 L1771.5 531.4 L1771 528.9 L1772.4 526.2 L1771.3 527.4 L1772.3 526.3 L1771.7 524.5 L1771.9 519.1 L1771.7 519.3 L1772.2 514.2 L1771.3 516.5 L1771.2 513.7 L1771.6 508.8 L1771.5 507.9 L1772.7 504.2 L1772.5 503.1 L1771.5 503.3 L1772 500 L1771.8 496.4 L1771.9 497.7 L1772.6 494.4 L1771.3 493.4 L1772.3 492.1 L1772.8 487.1 L1772.7 487.7 L1771.8 483.3 L1772 481.2 L1772 478 L1771.8 480.1 L1772.1 476.7 L1772.9 475.3 L1771.9 474.2 L1772.8 472.6 L1772.7 469.3 L1772.8 464.7 L1772.6 463.4 L1772.9 460.1 L1772.5 459.1 L1772.9 457.2 L1773 457.8 L1773.1 452.1 L1773.2 453.3 L1772.8 450.8 L1771.8 449.9 L1772.6 445.8 L1772.3 445.5 L1773 443.9 L1772.1 439.2 L1772.2 435.9 L1772.4 433.5 L1773.1 432.6 L1772 429.8 L1773.1 428.4 L1772.7 427.5 L1773.2 428.4 L1772.5 424.7 L1773.4 421.8 L1773.4 421.2 L1772.5 419.9 L1773 414 L1773 415.7 L1772.9 411.9 L1772.8 412 L1773.2 406.5 L1772.7 405.3 L1773.7 405 L1772.4 404.2 L1773 400 L1772.3 398.5 L1772.9 397.1 L1772.9 391.9 L1773.1 393.7 L1773.6 389.3 L1772.7 389.3 L1773.6 384.5 L1773.8 386.6 L1773.1 381.4 L1773.5 382.2 L1772.7 377 L1773 377.2 L1772.8 374.2 L1773.3 372.9 L1772.7 372.4 L1774.1 368.3 L1773.8 364.4 L1774 364.3 L1773.8 363.9 L1773.2 362.2 L1773 355.5 L1773.4 358.1 L1774.1 356.4 L1773.5 354.2 L1773.6 348.1 L1773.7 349.6 L1773.4 346.5 L1773.2 342.8 L1773.5 342.1 L1773.5 337.9 L1772.8 337.2 L1774 337.3 L1773.2 332.7 L1773.7 330.3 L1773.9 332.1 L1773.2 328.4 L1774.1 327.3 L1774.1 325.1 L1773.4 323.8 L1774.5 317.7 L1774.5 317.7 L1773.2 313.8 L1774.3 314.9 L1773.3 311.8 L1774.1 312.6 L1773.7 309.4 L1773.5 304.4 L1773.4 303.5 L1774.2 301 L1774 300 L1773.6 296.5 L1773.6 294.4 L1774.2 294 L1774.1 291.9 L1774.7 292.5 L1774.9 290.3 L1775 284.4 L1775.4 282.2 L1774.9 279.8 L1775.9 282.4 L1775.5 277.2 L1775.7 275.2 L1776 274 L1776.4 271.4 L1775.7 271.9 L1776.5 265.4 L1777.1 267.2 L1776.5 264.7 L1777.5 261.5 L1776.9 259 L1777.2 258.8 L1777.6 258.3 L1776.8 253.3 L1778.1 253.5 L1777.8 250.9 L1777.6 250.3 L1778.1 245.5 L1777.6 242 L1778.9 243.6 L1778.4 240 L1777.9 237 L1779 235.8 L1779.1 235.8 L1779.4 231.8 L1780.6 230.3 L1780.2 226.6 L1780.3 226 L1781.3 222.1 L1780.9 220.7 L1781.2 221.3 L1781.8 215.9 L1782 215 L1782.4 214.7 L1782.7 212.1 L1783.2 207.6 L1783.9 208.8 L1784.6 203.9 L1785.1 202.1 L1786.5 201.4 L1788.4 200.7 L1790.2 200.1 L1791 196 L1793.1 199.1 L1794.3 200.1 L1797 198.8 L1798.9 198.9 L1801.4 204.1 L1803 204 L1804.1 203.9 L1806.1 209.3 L1806.9 212.5 L1808 212 L1807.8 211.7 L1808.4 213.5 L1809.8 218.7 L1809.4 218.2 L1810 222.6 L1811.3 226.4 L1811.3 228.5 L1812 228 L1812.3 229.5 L1812.5 230.8 L1814.1 236.9 L1814.1 234.8 L1813.7 236.7 L1814.4 241.9 L1814.4 242.9 L1815.8 242.5 L1816 247 L1816.3 250.6 L1816.9 250.9 L1817.8 253.7 L1817.3 254.7 L1818.6 259.2 L1819 259.7 L1818.1 259.7 L1818.9 264.5 L1818.7 267.1 L1820.3 267.7 L1819.4 271.2 L1820.5 272.6 L1821 273.8 L1821.4 273 L1821.4 272.2 L1822.5 270.1 L1822.3 264.9 L1822.2 262.7 L1823.3 263.4 L1823.4 261.6 L1824 258.9 L1823.2 257.3 L1823.3 254.6 L1824 252 L1824.8 251.4 L1826.7 247 L1829.3 244.8 L1832 245 L1835.4 242.5 L1837.4 244.3 L1840 247.5 L1840.6 249.5 L1843 250 L1845.6 253.1 L1848 252 L1848.6 253.8 L1849.7 254.2 L1849.9 256.4 L1849.6 258.7 L1851.1 262.5 L1851 265 L1851.7 265.7 L1852 269.8 L1851.3 271 L1852.6 271.5 L1852.7 273.8 L1852.6 279.2 L1853.8 281.6 L1853.3 281.4 L1854.2 284.3 L1854 285 L1854.1 288.9 L1854.2 291.3 L1854.5 289 L1855.1 291.2 L1855.1 292.7 L1855.8 297.2 L1855.6 297.1 L1855.6 300.4 L1855.1 304.6 L1854.9 304.9 L1855.2 308.8 L1856.6 306.6 L1856.1 310.8 L1856.7 314.2 L1856.2 317.3 L1856.2 315.1 L1857.3 317 L1857 321 L1856.7 318.9 L1857.1 315.1 L1858.3 314.6 L1858.3 311.3 L1858.7 309.1 L1858.9 309 L1859.2 307.7 L1858.8 304.4 L1859.4 301.8 L1859 300 L1858.4 300.2 L1859.6 296.9 L1859.6 292.6 L1859.3 293.7 L1860.1 292.2 L1858.9 289 L1859.6 285.5 L1859.1 282.1 L1859.7 282 L1859.4 279.3 L1860 279.4 L1860.1 274.2 L1860.7 273.3 L1860.9 274.5 L1859.6 270.4 L1861 267.4 L1860.4 265 L1859.7 262.5 L1859.9 260.9 L1860.8 260.3 L1861.4 259 L1860.5 258.3 L1861.1 254.2 L1861.5 252.9 L1861 250 L1860.8 248.5 L1860.8 248.4 L1860.7 246.5 L1860.5 239.5 L1861.3 238.5 L1861.3 236 L1861.9 236.9 L1861.7 236.2 L1862.2 232.9 L1861.8 227.4 L1860.8 227.6 L1862.4 225 L1861.8 221.4 L1861.6 224.1 L1861.9 221.7 L1861 216.5 L1861.3 217.7 L1861.3 216.2 L1861.6 214 L1862 210 L1862.5 207 L1863.7 205.3 L1863.7 201.5 L1864.3 204.1 L1863.6 200.8 L1864.4 195.6 L1865 196.2 L1866.4 195.8 L1866.9 191.8 L1866.8 187.3 L1867 187 L1868.4 185.5 L1868.8 185.6 L1869.6 179.9 L1871 180 L1871.2 176.3 L1872.6 177.7 L1872.6 174.3 L1874 172.7 L1874.4 170.7 L1874.5 166.2 L1876 166.6 L1876.2 167.4 L1877.1 169.5 L1877.6 171.6 L1876.8 175 L1877.6 176.4 L1878.6 177.9 L1878.8 183.2 L1878.8 183.6 L1880 186.3 L1879.1 185.6 L1880 190 L1879.7 191.2 L1880.2 194.9 L1881.1 195.3 L1881.7 200.6 L1881.7 198.6 L1882.5 202.5 L1882.8 199.6 L1884.3 199.7 L1884.1 195 L1884 192.8 L1885.9 193.6 L1885.3 191.5 L1885.7 189 L1887 187 L1887.2 186.9 L1888.3 192.1 L1888.4 191.3 L1889 194.7 L1889.5 194.9 L1890.3 196.4 L1889.7 200.5 L1890.1 200.9 L1891 205 L1891.8 209.6 L1891.7 207.8 L1892.7 209.6 L1892.8 214 L1893.4 215 L1893.6 215.2 L1893.4 219.2 L1895.2 223.2 L1894.1 223 L1895 223.4 L1895.6 227 L1896.2 227.9 L1896.7 232.6 L1896.3 231.1 L1896.7 233.1 L1897.3 238 L1897.5 241.5 L1896.9 242.1 L1898 243 L1898.6 238.9 L1898 236.6 L1898.6 238 L1898.3 235.8 L1898.5 233.9 L1898.5 233.2 L1898.9 226.1 L1898.5 227.8 L1899.9 225.3 L1898.9 224.5 L1899.9 218.5 L1899.5 219.3 L1899.1 214 L1899.8 216.3 L1900.9 211.3 L1900.9 211.7 L1901 208.6 L1901.3 206.9 L1901.4 204.4 L1900.4 202.1 L1901 200 L1902 190.2 L1903.9 207.3 L1905.9 186.1 L1907.7 207.3 L1909.7 187.5 L1911.6 205.7 L1913.3 189.5 L1915.2 205.8 L1917.3 192.4 L1919.3 210.9 L1921.7 191.8 L1923.6 211.7 L1925.5 195 L1927.8 211.5 L1929.9 200.1 L1931.9 235.8 L1933.7 209.7 L1936 232.5 L1937.7 208.4 L1939.9 233.3 L1942.1 213 L1944.2 237.3 L1945.9 211.4 L1947.5 232.8 L1949.5 227.9 L1951.9 234.7 L1953.7 212.5 L1955.4 232.3 L1957.6 211.7 L1959.5 237.3 L1961.5 215.6 L1963.8 229.7 L1966 223.6" fill="none" stroke="#f49a9a" stroke-width="10" stroke-linejoin="round" stroke-linecap="round"/>
<path d="M200 224.9 L201.9 262.3 L203.6 212 L205 300 L206.5 234.1 L208 246.1 L211 309 L212.4 288.6 L214.7 307 L217.5 241.2 L219.3 269.2 L220.9 240.1 L222.6 257.7 L224.2 236.8 L226 201 L227.9 229.3 L229 203 L230.1 271.8 L232.1 207.3 L234 202 L235.4 227.5 L237.3 257.5 L239.1 235.8 L240.9 264 L242.8 237.7 L244.9 261.4 L246.8 220.7 L248.4 286.8 L250 292 L252.1 265.2 L253.8 237.7 L255.9 263.1 L257 208 L260 209 L261.4 233.6 L263.3 267.5 L265 304 L267.2 265.1 L269 240.2 L271.2 281.7 L273.2 268.7 L275 376 L276.1 270.5 L277.8 374 L279.3 257.5 L280.8 353.1 L282.3 275.3 L284 393 L287 392 L289.2 267 L291 385 L292.2 259.1 L294 338.9 L296 230 L298 377 L299.5 265.4 L301 240 L303.6 280 L305.2 321.5 L306.6 245.9 L308 241 L310 286.7 L312.1 322.9 L313.7 261.2 L315.6 314.2 L317.4 285.8 L318.9 314.3 L320.9 283 L322 343 L324.5 287.2 L326.2 358.8 L327.7 279.7 L329 414 L331.9 302.3 L333 413 L336 415 L339 196 L340.5 294.7 L342 154 L343.9 273.3 L345 156 L348 170 L349.2 196.1 L351 286.8 L353 207.7 L355 277.9 L356.8 237.2 L358.3 278.8 L360 204 L361.8 263.1 L363.5 229.3 L366 401 L367.2 260.7 L369 400 L370.7 293.8 L372.8 380.6 L374.6 298.6 L376 326 L378.1 321.1 L381 374 L382.2 337.1 L384 358.6 L386 380 L387.8 326.8 L389 251 L392 378 L393 266.9 L394.5 315.4 L396.6 254.8 L399 254 L401.6 328.2 L403.8 288.9 L405.2 352.2 L407 365 L408.9 346.6 L411 300.9 L413 366 L414.9 327.5 L416.7 359.1 L420 380 L421.4 383.6 L420.6 386.5 L421.7 387.7 L421 388.4 L421.1 392.3 L421.2 395.5 L419.6 395.9 L421.9 398.7 L420.3 401.9 L419.8 405.9 L422.3 406.6 L421.2 409.3 L420.9 412.1 L419.5 413.8 L419.7 419 L420.8 419 L422.3 424.3 L420.7 423.7 L419.8 426 L421 430 L420.6 431 L420.3 434.1 L421.6 438.9 L422.4 439.7 L421.3 442.6 L421.3 444.4 L420.3 446.7 L423.7 448.7 L422.1 453 L423.6 454 L421.6 456.6 L422.1 459.8 L424.3 463.8 L424.1 463.3 L421.2 468.3 L423 470 L424.8 472.7 L424 473.9 L423.6 480 L425.5 482.6 L426.4 483.3 L425 487 L424 488.3 L425.9 492.8 L427.9 495.5 L427.2 498.2 L427 500 L425.9 503.4 L428 505 L427.3 509 L429.1 509.3 L427.6 511.6 L429.7 515.7 L428.1 516 L429.9 520.3 L429.7 521.5 L430.8 523.2 L430 527.4 L431 530 L433.1 533.1 L433.2 535.1 L431.3 536.8 L434.4 541 L432.4 541.1 L433.6 546.1 L434 548 L433.9 549.8 L434.9 554.9 L433.5 554.3 L434.1 558.4 L435.5 560.2 L436.1 564.9 L435.2 565.6 L437 568.7 L436.7 571 L434.7 575.6 L435.1 579 L436 580 L436.4 581.4 L435.8 584.7 L437.8 589.1 L436.3 589.6 L437 594.2 L437.1 593.4 L437.2 597.1 L440.6 601.4 L440.4 604.3 L440 605 L441.8 606.9 L439.3 611.6 L441.5 610.8 L441.4 614.6 L440.6 616.9 L440.1 618.2 L440.7 622 L443.4 623.6 L443.6 626.4 L441.6 631.2 L443.5 632.3 L440.9 634.9 L442.3 639 L443 640 L442.2 642 L445.1 643.3 L443.7 648.6 L445.3 648.3 L443 650.9 L446.5 654.1 L446.2 658.9 L445.1 659.2 L447.6 662.9 L445.5 665.8 L446 666.7 L447 670 L445.4 673.4 L448.8 675.5 L449.1 675.8 L446.7 679.9 L449.5 684.1 L447.6 684.1 L447.9 687.5 L449.9 688.9 L449.6 693.4 L449.8 696 L449.2 696.9 L449 700 L448.9 702 L451 703.5 L449.4 708.4 L450.1 708.4 L449.8 712.7 L452 715 L451.7 719.2 L454.1 721.8 L452.3 721 L452 725 L454.6 727.3 L453.3 729.7 L455.1 733.1 L455 735 L456.1 738.7 L455.9 738.6 L456.7 741.8 L455.9 744.5 L456.7 746.4 L455.1 749.1 L454.9 753.9 L456.6 754.4 L456.1 759.3 L456.7 759 L457.9 763.1 L457 765 L458.9 766.2 L457.1 771.4 L458.5 774.4 L455.7 774.8 L456.1 777.1 L459.2 781.1 L459.2 783 L459 785.9 L457 789.7 L459.5 789.9 L458 794 L458.9 797 L458.1 798.7 L458.4 800.6 L459.4 804.6 L461.4 805.8 L459.7 808.8 L462 812 L463.2 813.4 L462.5 816.1 L464.8 819.9 L462.7 820.9 L464.5 825 L465.9 826 L466 830 L465.2 833.5 L466.4 834.7 L466.4 839.9 L466.8 841.2 L467.4 843.4 L469.6 848.3 L468.1 848.2 L469 852 L470.1 853.5 L467.8 858.6 L469.6 860.9 L469.8 863.7 L470.3 863.6 L469 867.6 L471 870 L471.8 874.2 L470.1 875.9 L471.4 878.2 L470.9 880.1 L472.5 885.1 L471.3 886.3 L473 889 L474.6 893.3 L472.9 893 L476.1 898.7 L474.9 898.1 L477 901.9 L476 905 L477.8 907.9 L477.8 908.8 L478 911.5 L477 916.2 L478.9 916.4 L478 920 L477.7 922.1 L479.4 924.6 L478.6 926.6 L481.5 931.4 L479.7 932.7 L482 935 L483.5 935.9 L484.4 938.8 L484.2 943 L484.9 944.7 L485 948 L485.7 950.7 L486.7 953.4 L487.8 955 L487.3 958 L490 960 L490.8 961.5 L492.6 966 L492.3 966.3 L493.2 968.6 L492.8 972.3 L495 975 L494.1 977.4 L496.2 978.5 L497.3 981.3 L498.2 986.4 L498 988 L498.2 989.1 L498.3 993.1 L500 994.9 L499.8 1000.8 L499.5 1002.9 L497.6 1006.2 L498.8 1008.9 L499 1010 L500.6 1011.3 L500.3 1016.6 L497.8 1017 L500.4 1018.8 L501.1 1021.7 L500.9 1023.7 L499.9 1029 L500 1030 L499.1 1031.7 L500.2 1034.5 L498.7 1036.5 L499.2 1041.8 L501.2 1044.2 L499.5 1046.4 L499.4 1048 L501.4 1049.9 L501 1053 L502.9 1055.6 L502.4 1059.3 L501.2 1062.1 L503.7 1062.4 L504.8 1064.4 L506.1 1067.9 L504.4 1071.1 L505.2 1071.4 L506 1075 L507.4 1075.9 L508.2 1079.1 L508 1084.2 L508.3 1085.6 L507.8 1085.7 L507.3 1088.7 L509.9 1092.3 L510 1095 L511 1098.9 L510.7 1099 L513.6 1100.8 L514 1105 L512.7 1107 L513.6 1109.5 L514.5 1112.8 L516.3 1113.9 L516.9 1117.4 L517 1120 L515.9 1124.1 L516.6 1123.7 L516.3 1128 L519.3 1131 L517.9 1131.7 L516.7 1135.5 L519 1137 L519 1140 L519.6 1142.5 L520.8 1146.2 L518.4 1149.6 L517.8 1150.9 L519.2 1152.6 L518 1157.2 L517.9 1159.1 L521.4 1160.3 L518.8 1164.7 L520 1167 L520.2 1164.9 L521.6 1160.5 L520 1158.4 L519.2 1157.8 L522.1 1154.6 L519.5 1152.4 L522.4 1148.4 L522.6 1145.7 L520.9 1141.8 L521.2 1138.9 L521.8 1138.8 L523.3 1136.5 L523.5 1131.8 L523 1130 L523.3 1127.2 L524.3 1125 L522.5 1122.9 L525.2 1118.9 L525 1115.6 L522.9 1113.9 L524.8 1113.9 L524.9 1109.2 L525.5 1106.7 L523.4 1106.2 L524.9 1103 L525.2 1101.5 L524.6 1098.4 L525.5 1096 L524.7 1093 L525.3 1089 L524.2 1087.6 L523.8 1086.1 L524.2 1080.4 L524.2 1081.1 L525.2 1075.8 L524.2 1072.9 L526 1072 L527.3 1075.1 L527.9 1078 L526.2 1080 L527.8 1083.4 L530 1086.3 L527.9 1088.8 L530 1090 L531.8 1094.1 L529.1 1094 L529.4 1096 L532.3 1101.3 L531.8 1103.9 L532.1 1104.5 L530.5 1106.4 L533.1 1109.3 L531.8 1112.6 L531 1114.6 L533 1118 L532.6 1121.4 L533.2 1122.7 L535.7 1126 L535.6 1129.1 L533 1131 L534.8 1135 L534.8 1137.4 L535.8 1138.3 L536 1142 L537.8 1138 L538.2 1135.8 L535.7 1133.4 L538.9 1133.7 L536.7 1129.5 L539 1128.1 L538.4 1124.5 L540 1122 L539.9 1120.5 L540 1118.3 L540.6 1113 L542.5 1111.3 L540.8 1109.2 L541.2 1107 L543.8 1104.4 L544 1100.1 L544 1098 L544.2 1095 L546.5 1091.4 L547.1 1088.6 L545.2 1086.9 L548.3 1085.1 L547 1084 L548 1080 L547.6 1077.3 L549.3 1075.8 L550.6 1072.8 L549.7 1069.1 L549.6 1068.4 L552 1065.4 L552 1062 L551.4 1059.1 L554.1 1056.9 L552.4 1053.7 L555.7 1050.2 L553.7 1047.7 L556.2 1047 L556 1043 L555.3 1039.3 L556.1 1037.4 L557.6 1034.3 L557.4 1031.9 L560.2 1031.3 L559 1028 L558.1 1027.1 L558.7 1022.4 L562.5 1021.3 L562.1 1017.5 L560.8 1015.6 L561 1011.5 L563 1010 L563.4 1005.9 L564.2 1006.2 L566.1 1002.8 L566.7 1000.3 L567 998 L566.2 995.7 L567.7 993.5 L570 989.7 L569.3 988.2 L569.2 983.7 L570 982 L571.3 980.5 L572 977.1 L572.8 974.1 L572.5 970.5 L571.8 968.3 L573 965 L572.1 962.2 L575 960.8 L575 956.6 L574.7 954.8 L575.9 952.2 L576 950 L577.1 949 L575.7 945.4 L578.3 941.9 L577.7 941.4 L576.5 937.3 L577.4 935.6 L579 932 L581.2 929.3 L578.8 926.7 L580.9 924.4 L581.4 921.3 L582 918 L583.6 915.5 L582.5 914.5 L582.2 910.9 L583.3 908.7 L582.8 906.9 L584.1 901 L585 900 L584.4 897.1 L583.6 894.7 L585.3 893.2 L585.3 889.2 L585 888.4 L587.8 885.1 L585.4 883.6 L586.2 879 L585.5 878.5 L587 875 L588.2 873 L587.1 870.2 L586.3 869.2 L586.9 865.5 L588.6 863.6 L587.5 859.3 L587.9 856.2 L589 854.5 L589.2 851.7 L588 850 L587.8 846.6 L588.1 843.9 L586.8 843.3 L588 839.1 L588.3 837.4 L588.9 835.5 L590 832 L591.1 831.3 L588.2 828.7 L590 825 L591.8 823.5 L589.5 821.2 L591.6 815.8 L589.7 816.6 L592.4 811.6 L590.8 808.7 L591.7 808.5 L593 805 L593.4 801 L596.5 800.6 L594.8 798.2 L597 794 L598.2 792.3 L599.3 790 L600.6 787.1 L599.3 783.8 L601.4 781.3 L601.9 779.1 L603 775 L605.2 771.7 L607 770 L606.4 766.2 L607.6 763.4 L607.9 761.2 L608.3 760 L608.8 758.8 L607.2 756.2 L609.2 752.7 L610.3 751.2 L609.5 747.2 L612 743.5 L611.2 743 L611 740 L609.4 737.9 L611.9 736.6 L610.7 734.2 L611.4 729.9 L612.9 725.8 L612.4 725.5 L611.1 723.8 L611.3 719.9 L612 718.5 L612 715 L611.1 712.3 L612.1 710.2 L613.7 706.8 L613.8 704.7 L612.8 701.7 L613 700 L613.5 699.2 L614.6 696.1 L613.9 691.8 L614.3 690.3 L616 688.5 L614.3 685.8 L617.9 682.7 L617 680 L616.2 676.9 L616.8 674.1 L620.9 673.2 L620.8 671.4 L621 668 L622.9 665.8 L622.3 663.3 L623 660.6 L623.4 656.7 L623.7 655 L624.5 651.1 L624 650 L623.2 645.8 L625.6 646.5 L625.5 642 L626.4 641 L625.7 636.6 L625.1 634.7 L625.4 632.3 L626.9 631.6 L625.1 627.7 L627 625 L625.8 621.1 L629.1 620.3 L630 617.3 L627.3 614.6 L629.8 614.1 L630 610 L632.3 607.3 L630.8 603.4 L632.2 601.2 L631 598 L631.1 597.8 L632.1 596.3 L634 592 L633.3 590.3 L634.2 584.3 L637 582.1 L637 580 L638.1 576.4 L636 576 L638.7 573.8 L639 568.5 L639 568.3 L638.7 566.6 L638.2 564.2 L640.2 558.2 L638 558 L640 555 L641.6 550.7 L640.3 550.2 L640.3 547.8 L642 542.1 L642 541.1 L643 538 L643.9 536.1 L644.1 534.1 L646 531 L648.1 527.7 L648.4 526.5 L650 523 L651.8 521.5 L650.7 517.1 L649.1 517 L651.6 514 L650.5 510.6 L653.1 508.9 L651.9 504.4 L651.5 504 L652 500 L653 464.7 L655 471.4 L657.1 450.7 L659.2 464.4 L661.2 441.4 L663 464 L664.8 442.2 L667.2 458.8 L669.4 439.5 L671.3 445.7 L673.6 426.6 L676.2 425 L678.5 393.8 L681.3 380.5 L683.9 359.6 L686.4 379.7 L688.5 351.7 L690.4 382.8 L693 344.8 L694.9 382.3 L697.6 340.4 L700.1 341.6 L702.1 331.3 L704.4 367.6 L706.6 333 L709.4 360.7 L711.7 331.9 L714.5 344.2 L716.6 329.5 L718.8 340.6 L721.1 330 L723.4 369.1 L725.5 318.6 L727.7 374.8 L730 355 L729.9 358.1 L730.9 361.3 L731.9 361.8 L729.6 364.2 L731.3 367.8 L732.8 371.2 L730.6 373.6 L733.4 376.2 L732.9 376.8 L733 380 L734.3 383.5 L733.9 386.3 L733 386.2 L733.8 391 L732.9 393.3 L735.4 394.1 L734.5 398.1 L734.2 399.1 L733.7 403.3 L735.6 404.9 L733.5 408.5 L735 410 L736.1 411.6 L735.8 416.3 L737 417.6 L735.9 420.3 L735.3 421.5 L735.5 425.6 L736.3 427.7 L737 430 L736.7 432.6 L736 433.5 L738.7 437.1 L735.9 440.4 L738.2 441.4 L737.6 444.5 L737.4 446 L735.9 451.6 L738.6 452.5 L737.7 454.2 L738.4 457.3 L739 460.9 L738.7 464 L736.9 463.5 L736.8 466.5 L736.5 468.6 L738 473.7 L737.8 476.4 L739.3 476.1 L738 480 L738.4 482.2 L736.9 486.5 L737.4 487.7 L738.7 491.5 L738.9 492.2 L738.2 493.9 L739.9 499.1 L737.6 498.5 L737.8 502 L739.9 506.3 L739.8 506.1 L739.7 510.7 L739.3 514.1 L737.5 513.9 L739.8 518.9 L739.6 519.4 L739.4 523.3 L737.9 524.4 L738.4 526.3 L739.2 528.9 L738.5 531.4 L739.9 533.4 L740.1 536.5 L738 541.4 L738.7 543.9 L740.8 546.2 L738.5 547.3 L738.5 551.4 L740.9 552.9 L739.7 554.5 L741 557.4 L740 560 L740.4 561.4 L739.2 563.6 L740.8 567.7 L739 571.2 L739.4 572.2 L739.1 574.3 L741.3 577 L739.2 580 L739.7 583.8 L739.1 586.5 L738.9 588.8 L740.9 589.1 L740.3 591.8 L739.7 594 L740 599.1 L742.1 601.4 L739.2 601.8 L741.8 603.6 L741.3 606.8 L742.2 608.5 L741.6 612 L739.5 613.4 L741.8 617.6 L739.7 619.8 L742.1 621.6 L741 623.8 L739.8 628.4 L741.6 629 L739.6 631.2 L741.3 635 L740.2 636.6 L741 640 L741.4 643.2 L742.1 645.3 L740.1 646.1 L741.9 649.7 L741.9 651.1 L742.2 654.5 L742.3 658.7 L741.2 658.4 L742.6 662.4 L742.5 664.3 L740.3 668.6 L740.9 668.9 L741 672.8 L739.9 675.1 L741.3 677.6 L740.3 680.7 L742.5 683.7 L741 685.7 L741.2 688.3 L740.2 691.2 L743.1 692.5 L741.7 695.1 L741.8 696 L743.2 699.1 L740.8 701.2 L741 706 L740.3 706.2 L742.5 709 L740.4 712.8 L742.2 715.1 L742.6 716.2 L742 720 L743.3 723.3 L740.7 724 L742.2 727.8 L741.6 729.1 L742.1 731.8 L742.8 736.7 L741.5 738.3 L743.5 739.6 L743.8 744.7 L742.5 745.6 L744 748.5 L743 751 L743 749.7 L744.6 745.2 L743.2 742.5 L744.1 741.9 L745.6 739 L745 735 L746.1 733.6 L743.7 730.1 L746.7 728.9 L744.5 724.8 L745.8 722.1 L745.5 718.6 L745.3 717.5 L744 713.8 L747.1 713.4 L747.1 710.4 L746.7 708.7 L747 703.5 L746.3 701.8 L746.5 699.3 L746.1 698.9 L746.5 694.2 L746.2 692.3 L747.6 689.3 L745.6 688 L745.1 685.3 L747.9 682.5 L745.7 679.9 L746.6 676.4 L745.4 673.8 L746 672.2 L746.1 669.2 L745.5 667.6 L748 665.4 L747.2 663 L747 660 L746.1 658.2 L747 655.2 L747.6 652.4 L746.7 649.2 L746.5 647.5 L747.1 645.3 L745.9 642 L748.7 639.2 L747.8 637.5 L747 636.6 L747.1 633.4 L746.8 628.6 L749.1 627.3 L746.6 624.6 L747.9 623.3 L746.9 619.1 L749.7 618.3 L747.2 614.5 L747.9 613.1 L748.8 611.1 L749.5 607.6 L749.3 605.8 L749.5 602.4 L749.6 600.7 L750.1 596.3 L750 593.4 L749.8 592.8 L749 590 L749 589 L749.3 584.7 L750.1 583.7 L749.5 579.6 L749.1 577.4 L750 574.3 L749 572.7 L749 569.4 L750.4 568.6 L749.5 564.8 L748.5 561.9 L748.5 560.2 L749.9 556.2 L751 554.4 L750.8 553.6 L751.3 549.1 L749.6 548.8 L748.3 543.6 L750.2 542.5 L750 540 L751.4 538.4 L750.2 536.6 L750.2 532.6 L750.7 529.6 L749.7 527.8 L749.7 526.4 L750.8 522.6 L749 519.6 L750 517.7 L750.6 516.2 L751.9 512.5 L750.2 510.4 L752.1 507 L750.6 506 L749.5 501.9 L752.1 501 L750.6 496.3 L751.9 495.6 L751.7 494.1 L752 489.7 L749.7 486.8 L750.8 485 L749.8 481.5 L751.3 480.3 L750.4 479.1 L751.4 473.5 L750.7 473.4 L751 470 L750.5 468.1 L749.6 464.4 L752.3 462.8 L751.8 459 L751.4 457.7 L750.7 455.5 L751.6 454.1 L751.8 449.7 L750.4 446.4 L752.5 443.7 L750.5 441.4 L751.9 441 L752.3 438.5 L750.6 433.4 L752.9 431.9 L752.8 429.5 L751.2 426.8 L751 426.3 L752.6 422 L752.3 419.6 L751.1 418.7 L752.8 416.5 L752.4 412.9 L751.9 408.5 L754.2 408.6 L752.3 406.3 L753.9 401.9 L753 400 L753.4 398.9 L753.2 396.2 L752.5 391.8 L754.1 388.7 L752.9 388.1 L753.6 385.3 L753 380.7 L753.4 378.1 L755.5 375.8 L754.3 372.7 L754.3 370.9 L754 367.3 L753.2 367.1 L754.1 362.6 L753.7 360.1 L753.9 356.7 L755.4 355.1 L755 353 L754.5 351.1 L754.9 347.1 L757.9 344 L757.2 343.7 L758 340 L760 341.4 L759.5 345.7 L760.6 349 L762 350 L761.3 353.9 L762.4 354.1 L762.4 356.3 L763.4 359.2 L764.2 362.8 L762.7 364.2 L763.7 366.6 L764.7 368.8 L763.7 372.6 L763.1 375.9 L763.7 378 L764.5 379.4 L764.1 381.2 L763.6 386.1 L764.2 388 L765 390 L764.1 387.7 L765.3 385 L765.5 381.1 L765.9 379.1 L765.7 378.2 L766.6 374.7 L768.9 373.4 L768 370 L770.6 368.5 L769.5 364 L772 362 L770.9 365.1 L773.4 366.6 L773.1 370.2 L774.4 371.4 L775.3 374.3 L775.1 376.3 L773.9 381.2 L776.3 383.1 L776 385 L775.5 386 L776.9 389 L778.4 392.1 L780 395 L781 396.9 L785 400 L787.8 400 L790.8 402.2 L792 403 L794.4 399.5 L795.1 398.3 L797 395 L796.7 390.9 L798.4 390.9 L796.7 386 L798.7 385.3 L796.3 381.7 L796.6 380.9 L797.1 378.8 L798.9 373.7 L798.9 372.2 L799.2 371.1 L797.9 366.2 L800.1 364.8 L800.2 363.1 L799 360 L799.9 358.6 L799.7 354.8 L797.9 353.1 L799.3 350 L801 346.3 L800.6 343.5 L800.5 343.5 L799.2 340.1 L801.6 337.9 L800.4 334.2 L799 332 L800.2 329 L800 326.3 L801.4 325.5 L800 321.7 L801 320 L801.3 317.2 L802.9 314.3 L801.1 313.4 L800.8 309.7 L801.6 307.9 L802.5 305.1 L801.6 302.2 L803.2 299 L803.9 297.5 L802.1 293.2 L803.1 290.3 L802.4 287.9 L804 286 L803.2 284.1 L804.3 279.6 L804.1 278.2 L804.4 274.7 L803.7 271.6 L806.9 271.4 L804.2 268.7 L807.3 265.6 L804.7 262.8 L805.9 259.3 L806.5 256.1 L807.9 255.6 L807.2 254 L807 250 L807.8 246.7 L806.8 243.8 L806.4 243.4 L809.3 239.3 L807.5 237.9 L809.9 236.4 L808 233.4 L810.5 230.8 L809.1 226.5 L810 225 L810 214.7 L812.3 233.4 L815.1 220 L818.1 231.6 L821.4 216.6 L823.9 223.8 L826.2 215.1 L829.1 222 L832.4 210.5 L835.3 213.4 L838.5 201.9 L841.3 213.9 L844.6 202.3 L847.8 210.7 L851.2 195.4 L854.2 210.3 L856.2 185.9 L858.8 210 L862 191.7 L865 204.7 L868 192 L870 201.5 L873.1 191.3 L875.9 199.8 L878 191.8 L880.4 200.5 L882.8 190 L885.1 193.4 L888.6 176 L891.2 180.6 L894.2 166.9 L897.1 176.5 L899.2 162.7 L901.6 175.1 L904.1 166.2 L906.1 178.7 L908.5 165.4 L911.5 172.4 L914 161.9 L916.6 171.8 L918.8 162.7 L921.1 167.5 L924.5 157.7 L927.2 168.1 L930.7 160.7 L933.1 172.2 L936.5 155.9 L939.4 174.6 L942.2 159.6 L944.3 169.4 L947.1 158.8 L950.2 174.3 L953.5 156.3 L955.6 176.2 L958.3 162.6 L960.7 182.5 L963.3 171.2 L966.5 189.2 L969.6 177.1 L971.8 182 L974.9 176.5 L977.3 182.1 L979.9 172.4 L982.8 175.2 L985.4 165.1 L987.5 175.4 L990.8 165.8 L994.2 175.5 L996.6 167.7 L998.9 175.5 L1000 172 L1003 170.1 L1005 170 L1005.2 168.3 L1005.6 167.7 L1005.8 161.6 L1006.7 162.7 L1007.5 161.1 L1008 160.3 L1007.8 156 L1007.7 153 L1008.7 149.8 L1009 150 L1009.6 150.3 L1009.5 156.6 L1009.2 153.9 L1010 156.8 L1010.7 157.9 L1011.2 164.4 L1011.4 164.2 L1010.8 167.6 L1011.5 168.4 L1011.5 170.6 L1012 173 L1014.6 175.7 L1017.3 173.3 L1019 176 L1020.9 176.5 L1023.5 176.8 L1025.1 176.2 L1027.5 179 L1030 180 L1032.8 181.7 L1034.6 181.7 L1036.7 179.4 L1038.5 176.1 L1040 178 L1042 179.6 L1043.2 180.4 L1046 180.9 L1047 182 L1049.1 181.7 L1050.5 185.5 L1051.9 182.6 L1054.6 185 L1056.6 183.5 L1057.5 183.3 L1059.7 181.6 L1061.5 180.1 L1063.4 178.7 L1065.4 177.4 L1066.6 175.5 L1069.8 176.6 L1070.5 177.4 L1072.7 172.7 L1075 174 L1077.1 171.6 L1079.1 172 L1080.8 171 L1082.7 169.6 L1085.4 168.4 L1087.2 167.6 L1088.6 169 L1090.3 174.5 L1092 174 L1093.4 176.9 L1095.1 175.6 L1096.7 180.6 L1096.6 182.9 L1098.6 183 L1100.9 180.6 L1104.3 182 L1106 181 L1108.6 178.9 L1110.8 178.2 L1112.2 179.6 L1114.8 180 L1116.1 179.7 L1118.4 177.4 L1121.3 177.2 L1123.6 177.4 L1125 176 L1128 176.6 L1130.4 178.4 L1131.5 178 L1134.2 178.3 L1136.8 177.2 L1139.1 179.1 L1140.3 176.9 L1143.3 180.1 L1145 178 L1147.5 175.9 L1149.5 176.4 L1151.5 178.7 L1153.4 181.2 L1154.5 182.7 L1157.2 180.2 L1158.3 182.1 L1161.1 183.7 L1161.8 181.7 L1163.6 186.7 L1166 186 L1167.3 185.1 L1169.3 184.6 L1171.2 180.6 L1173.8 181.4 L1175 180 L1177.3 181 L1179.7 176.4 L1180.7 176.5 L1183 179.7 L1185 177.2 L1187.5 174.3 L1188.5 178 L1191.3 175.3 L1193 173.7 L1195 175 L1197.7 174.4 L1199.9 175.6 L1200.7 174.1 L1203.1 177 L1205.9 172.6 L1207.3 174.3 L1210 175 L1211.9 175.6 L1213.8 174.6 L1215.2 175.9 L1217.7 173.2 L1219.9 178.4 L1222 176 L1223.3 174.4 L1226.3 175.3 L1227.6 176.7 L1229.6 177.3 L1232 177.2 L1233.3 181.5 L1235.3 178.7 L1235.8 184.5 L1237.6 186.5 L1238.5 187.7 L1239.5 189 L1241 189.3 L1243.4 193.7 L1245.3 194.1 L1246 196 L1248 196 L1250.4 197.1 L1252.2 197.4 L1254 199.3 L1255.7 200.4 L1256.5 201.5 L1258.5 206.5 L1260.4 204.8 L1262 207 L1263.3 207.4 L1265.2 208.6 L1266.4 214.2 L1268.9 214 L1271 214.1 L1273.4 213.8 L1275 212.9 L1277.5 214.6 L1280 216 L1282.4 216.6 L1284.7 215.8 L1286.7 217.3 L1287.3 215.5 L1290 217.5 L1292.1 220.5 L1293.8 219.8 L1295.9 220.7 L1297.3 219.1 L1300.6 218.5 L1301.6 217.6 L1304 220.5 L1305.1 218 L1307.6 216.4 L1308.7 215 L1310.7 217.1 L1312.4 212.3 L1313.8 212.6 L1316.3 214 L1318.2 208.5 L1320.6 211.7 L1322 206.8 L1323.9 208 L1326.5 206.8 L1328.8 208.9 L1330.5 208.1 L1331.3 212.3 L1333.5 211.9 L1335.2 212.9 L1335.9 214.7 L1338.3 216.5 L1339.7 217.2 L1342.2 216.5 L1344.8 215.2 L1346.6 214 L1349.5 216.8 L1351.7 214.2 L1353 216.5 L1355.6 218.2 L1357.6 215.4 L1359.7 216.1 L1362.7 218.5 L1364.2 214.5 L1365.4 214.4 L1366 213.4 L1367.1 211.9 L1368.3 208.4 L1369.6 206.2 L1370.7 207 L1371.9 202.8 L1372.5 201.9 L1375.4 204.1 L1377.3 200.2 L1379.9 203.4 L1382.3 200.9 L1382.8 196.4 L1384.5 197.8 L1386 194.3 L1387.5 191.7 L1388.2 189 L1388.1 187.3 L1390 187.2 L1391 181.2 L1392.9 190.4 L1394.5 178 L1396.2 192.6 L1397.9 174.7 L1400 191.8 L1401.5 174.1 L1403.2 186.2 L1405 173.6 L1406.8 188.8 L1408.6 174.6 L1410.7 208.9 L1412 215 L1411.5 217.8 L1412.2 220.9 L1411.9 221.3 L1412.7 225.2 L1413.7 225.7 L1412.8 225.7 L1413 228.7 L1413.2 229.5 L1414.2 233.7 L1414 235 L1413.9 239.6 L1414 239.5 L1414.1 243.1 L1415.5 242.1 L1415.6 247.1 L1415 246.6 L1415.6 251.6 L1415.3 252.6 L1416.2 253.4 L1416.4 257.8 L1416.1 259.8 L1416.5 261.4 L1417 262 L1417.7 258.3 L1417.9 260.6 L1417.1 253.5 L1417 256.5 L1417 254.1 L1417.3 251.2 L1417.4 246.3 L1418.5 243.9 L1418.1 246.2 L1418.8 244 L1419.4 237.6 L1418.4 239.5 L1419.3 233.6 L1419.1 232.6 L1419.1 229.9 L1418.6 232.6 L1419.3 230 L1419.1 225.9 L1419.3 223.6 L1420 222 L1419.7 225 L1419.8 227.2 L1420.5 226 L1420.5 230 L1421.6 231.2 L1420.6 236.4 L1421.9 237.2 L1421.1 236.3 L1421.3 237.8 L1421.1 242 L1421.9 244.3 L1422 243.5 L1422.7 248.8 L1422.6 250.3 L1423 254.5 L1423.5 255.1 L1422.9 255.1 L1423.1 260.5 L1423.3 259.4 L1423.5 260.1 L1424.6 261.4 L1424 266 L1424.3 266.2 L1423.9 262.6 L1424.3 258.7 L1424.2 256 L1425.4 257.5 L1425.7 251.7 L1425.5 251.1 L1425.6 250.3 L1425.2 250.5 L1424.9 247.3 L1426.4 244.1 L1426.1 244.6 L1425.7 240.7 L1426.7 237.4 L1426.8 235.4 L1426.7 234.6 L1427.1 231.1 L1427 230 L1427.3 232.2 L1426.8 234.6 L1427.1 238.1 L1427.5 239.2 L1427.7 239.9 L1427.4 240.1 L1428.7 244.1 L1428.2 246.1 L1428.8 246.6 L1427.9 251.7 L1428.5 252.7 L1429.2 256 L1429.4 253.6 L1428.8 259.7 L1429.7 258 L1428.7 260.7 L1428.8 263.3 L1430.1 266.1 L1429.6 265.9 L1429.7 272.6 L1430 272 L1430.4 269.7 L1430.2 269.6 L1430.8 264.2 L1430.8 263.3 L1430.7 260.6 L1430.6 259.2 L1430.7 255.5 L1430.6 256.4 L1430.5 252.3 L1431.7 250.8 L1431.2 248.7 L1432.1 245.9 L1431.9 247.9 L1431.3 243.6 L1432.4 242.6 L1431.9 237.6 L1432.1 237.3 L1432.7 234.9 L1432.3 234.8 L1433.1 231.2 L1432.6 230.4 L1433.5 226.4 L1433 226 L1434 229.1 L1433.3 230.9 L1433.4 229.8 L1434.3 233.4 L1434.2 236 L1435 239.3 L1433.9 240.5 L1434.8 241.8 L1435.6 243.6 L1435.3 248 L1435.4 248 L1435.8 251.7 L1436 252 L1437.3 251.5 L1437.8 246.1 L1439.3 247 L1440 245 L1440.6 248.5 L1439.7 247.6 L1439.8 252.8 L1440 251.1 L1441.2 255.6 L1440.2 258.2 L1441.4 259.3 L1440.5 262.4 L1441.2 263.9 L1442.3 267.1 L1442.2 265.7 L1441.5 269.7 L1441.2 274.2 L1441.7 272.5 L1442 274.5 L1443 278.1 L1442.6 279.4 L1442 280.9 L1443.4 285.5 L1443 286 L1443.8 282.7 L1443 279.7 L1443.8 279.3 L1443.9 277.9 L1444.4 275.3 L1445 272.4 L1445.4 272.3 L1444.3 269 L1445.3 267.5 L1445.6 265.1 L1445.4 265.5 L1446 262 L1445.9 265.2 L1446.9 266.6 L1446.6 270.5 L1446.8 272.3 L1446.4 272 L1447.6 272.1 L1448.2 274.3 L1448 277 L1448.8 281 L1448.8 282.8 L1448.8 285.8 L1448.4 285.4 L1449 289 L1449.7 285.1 L1449.9 283.4 L1448.8 280.8 L1450 283.2 L1449.5 279.6 L1449.4 278.8 L1450.2 272.9 L1449.3 273.7 L1449.4 272.4 L1450 267.2 L1450.6 265.6 L1450.7 262.7 L1451.4 261.5 L1451.4 258.6 L1451.4 260.8 L1450.9 253.9 L1451 255 L1450.9 252.5 L1450.8 250 L1452 247.8 L1452 244.1 L1452.4 242.1 L1452 242 L1453.1 242.6 L1453.5 238.1 L1452.9 235.2 L1454 234 L1454.7 229.9 L1454.4 231.9 L1455 228.2 L1454.5 224.1 L1455.2 226 L1456 222 L1457.6 222.6 L1458.7 223.6 L1459.2 230.4 L1460 230 L1461.1 230.6 L1462.9 224.3 L1464 225 L1465 217.9 L1467 232.3 L1469.2 206.9 L1471.4 233.1 L1473 204 L1474.7 228 L1476.9 204.5 L1478.9 229.8 L1480.9 202 L1483 226.9 L1485.1 204.5 L1487 221.9 L1488.7 202 L1491.1 224.3 L1493.4 205.8 L1495.3 224.4 L1497 204.3 L1498.7 217.3 L1500.7 192.9 L1502.7 211.5 L1504.7 190.9 L1506.6 206.5 L1508.6 185.5 L1510.3 202.5 L1512.6 186.5 L1514.9 203.9 L1517.2 187.2 L1519.5 200.7 L1521.6 186.9 L1523.8 205.6 L1525.6 192.5 L1527.5 214.4 L1529 210 L1530.6 210.2 L1531 214.7 L1531.7 215.3 L1532.2 220.1 L1533 218.2 L1532.8 223 L1534.5 222 L1534.4 227.3 L1535.3 227.5 L1535.8 230 L1536.5 229.6 L1537.1 233.7 L1536.8 233.9 L1537.5 238 L1538.5 241.2 L1540.5 240.2 L1541.4 242.1 L1543 246 L1543.5 246.5 L1544.7 252.5 L1546.8 253.5 L1547 254 L1547.2 256 L1547.9 260.1 L1548 260.7 L1547.4 262.7 L1548.6 265.5 L1547.6 267.1 L1548.3 266.2 L1549.5 270.9 L1549.3 270.1 L1549.7 276.3 L1550 277.3 L1550.1 279.6 L1549.9 279.7 L1550 282 L1551.5 281.1 L1552.6 276.3 L1553 275 L1554.2 277.3 L1554.7 277.3 L1555.2 283 L1554.6 285.4 L1555.1 284.3 L1556 288 L1556.6 284.7 L1557.3 286.3 L1558.2 283.4 L1558.4 281.9 L1559.7 279.5 L1560.6 278.3 L1560.4 272.6 L1561.4 274.5 L1561.6 271.4 L1562.5 269 L1563.5 272.6 L1562.6 273.1 L1563.1 273.3 L1564.8 277 L1564.9 279.3 L1564.9 280.1 L1565.4 285.5 L1566.3 284.7 L1565.9 286.7 L1567 290 L1567.9 291.7 L1568.4 295.6 L1568.1 297 L1568.5 299.7 L1569.3 298.8 L1571.1 301.3 L1570.4 306 L1571.6 308 L1572 308 L1572.3 305.9 L1573.6 303.9 L1574.1 300.1 L1574.3 297.9 L1574.3 294.9 L1574.2 297.8 L1575.1 295 L1575.2 290.5 L1575.5 289.5 L1577.1 287.2 L1577 285 L1577.8 289.2 L1579.6 289.9 L1579.3 291.6 L1581 293 L1581.5 297.5 L1582 298.1 L1583.1 298.7 L1583.5 302.4 L1584.8 303.6 L1584.5 308.2 L1584.7 309.6 L1586 310 L1586.7 312.4 L1586.7 315.5 L1587.8 317.4 L1587.9 315.9 L1587.6 318.5 L1589 324.5 L1588.1 325 L1589.2 324.3 L1589.3 330 L1590.1 329.7 L1590.6 331.8 L1590.6 335 L1591 332.5 L1592 331.6 L1592 329.6 L1591.6 329 L1592.5 325.5 L1592.1 320.7 L1592.9 322.1 L1593.5 317.5 L1592.8 316.3 L1594.3 312.3 L1594 312 L1595 308 L1594.9 305.1 L1595.5 304.6 L1597.1 305.3 L1597 300.6 L1596.6 297.6 L1597.9 294.9 L1597.1 294.2 L1596.8 291.2 L1597.4 289.8 L1598.4 287.1 L1597.3 288.4 L1597.8 286 L1598.3 283.7 L1597.9 278.4 L1598.7 278 L1598.5 277 L1598.9 272.9 L1598.4 274.2 L1598.8 268.9 L1599.1 266.7 L1599.4 263.5 L1599.6 264.2 L1599 264.1 L1598.9 258.4 L1598.7 258 L1599.9 256.6 L1599.5 255.2 L1599.1 250.6 L1600.1 252 L1600 247.5 L1601.7 250.1 L1603.4 250.1 L1605.2 253.4 L1606 253.8 L1607.3 254.8 L1609.7 256.1 L1610.3 260.4 L1612.5 260.1 L1614 261.6 L1615.6 265.4 L1616.1 264.2 L1617.3 266.3 L1619.3 270.4 L1620.9 270.7 L1622 272 L1623.8 273.6 L1625.5 276.3 L1628.2 277.5 L1629.7 277 L1630.1 276 L1632.1 273.2 L1633.3 273.3 L1634 271 L1634.8 269.3 L1635 266.5 L1636.9 264.1 L1637.5 261.6 L1638.6 261 L1640.7 266.6 L1641.6 265.1 L1643.1 266.2 L1645 270 L1646.9 273.9 L1648.7 272.1 L1650.1 272 L1651.9 274.7 L1653 277 L1654 275.9 L1655.9 272.3 L1657.5 271.5 L1660 270 L1662 270.3 L1663 269 L1665.6 266 L1666.1 266.6 L1668 269.2 L1668.6 272.4 L1669.5 275.5 L1671 276 L1671.7 279.6 L1673.7 279.8 L1673.6 282.8 L1674.7 283.2 L1676.6 285 L1677.8 284.5 L1679.5 289.7 L1680.8 289.7 L1682 292 L1683.1 294.2 L1683.8 297.4 L1686.1 298.7 L1687.1 298 L1687.5 300.6 L1689.8 300.2 L1690.5 302.3 L1692 306 L1692.9 308.9 L1694.3 309.8 L1694.7 310.4 L1695.8 312.9 L1697 316 L1697.1 319.2 L1698.2 319.7 L1698.2 323.1 L1698.8 322.8 L1700 327 L1701.2 329.3 L1701 330 L1702.4 334.3 L1702.8 335.4 L1702.4 334.9 L1703.1 340.5 L1704.9 341.4 L1704.9 342.1 L1706 345 L1705.8 347.8 L1707.5 348.2 L1706.3 349.6 L1707.1 355.4 L1708.2 355.2 L1707.4 355.5 L1707.8 361 L1708.6 364.2 L1709.7 365.3 L1709.3 367.5 L1709.1 365.9 L1710 370 L1711.1 368 L1711.5 364.7 L1713 364 L1716.8 365 L1716.4 369.2 L1717.9 371.4 L1718.8 370.8 L1718.8 372.6 L1719.3 377 L1718.6 374.8 L1719.1 379.8 L1719.8 378.9 L1720.9 385 L1720.7 383.2 L1721.8 387.8 L1720.9 388.7 L1722 391.7 L1723.4 395.4 L1724.4 395.7 L1725.1 395.3 L1727.4 397.7 L1728 400 L1728.6 402.4 L1729.9 402.3 L1731.7 406.3 L1733 407.8 L1734.9 410.6 L1736.2 409 L1738 413 L1738.4 412.7 L1738.1 416.5 L1738.5 420.1 L1737.8 421.8 L1738.6 422.9 L1737.8 427.1 L1738.6 424.7 L1738.1 431.5 L1738.1 430.4 L1739.1 434.7 L1738.9 436.3 L1738 434.9 L1739.6 440.6 L1738.2 438.7 L1738.6 445.2 L1738.6 445.9 L1739.8 447.7 L1739.8 447.8 L1738.7 448.5 L1739.7 450.9 L1740.1 456.1 L1738.9 458.6 L1738.9 459.1 L1738.9 462.5 L1740.2 465.2 L1738.9 466.8 L1739.8 468.7 L1739.8 469.6 L1740 472.6 L1739.3 470.7 L1740 475 L1740.1 475.9 L1739.9 476.5 L1740.6 478.6 L1740.8 484.7 L1740.2 483.1 L1740.6 485.6 L1740.3 487.1 L1741.2 491.4 L1740.3 491.1 L1740.9 497 L1741.2 495.1 L1740.5 498.2 L1741.2 499.4 L1741 505.8 L1741.3 502.7 L1740.2 505.3 L1741.3 509.8 L1741.1 511.1 L1740.9 513.9 L1741.4 517.5 L1741.6 518.9 L1741.9 521.2 L1741.6 519 L1741.6 525.3 L1741.3 527.4 L1741 529.8 L1741.4 530.6 L1741.2 530.5 L1741.4 532.6 L1741 535.3 L1742.5 538.4 L1742.5 541 L1742.4 544.2 L1742.3 542.5 L1741.6 545.2 L1741.3 546.3 L1742.7 551.9 L1741.9 553.1 L1742.6 555.8 L1742.7 555.9 L1741.7 559.5 L1742.1 560.5 L1742.2 562 L1743.2 562.1 L1742.6 566.6 L1742.7 570.1 L1742.5 572 L1743 574.3 L1742.1 572.4 L1742.5 578.1 L1742.1 576.7 L1743.3 582.5 L1743 582 L1742.8 579.7 L1743.8 579 L1744.2 577.3 L1743.7 572.7 L1743.6 573 L1744.2 568.7 L1745.7 568.7 L1745.3 566.8 L1745.6 565 L1745.4 559.7 L1746 560 L1745.4 555.5 L1746 554.1 L1745.7 553.9 L1747.2 552.9 L1746.2 551.3 L1746.1 545.8 L1746.4 545.4 L1747.1 543.6 L1747.3 539.8 L1747.7 539 L1747.7 535.4 L1747.8 534.4 L1747.9 535.4 L1747.7 530.7 L1746.8 528.2 L1748.3 526 L1748 526.2 L1748.1 522.1 L1747.4 519.6 L1748.8 519.1 L1748.4 518.1 L1747.8 513.4 L1747.6 515.5 L1747.9 514.1 L1748.4 510.8 L1748.1 509.1 L1748.4 504.9 L1748.9 501.6 L1749 501.6 L1748.7 501.1 L1748.9 496.9 L1749.8 494 L1749 492 L1749.4 490.7 L1749.9 489.2 L1750.4 484.9 L1750.2 487 L1749.6 480.7 L1750 479.1 L1750.2 480.2 L1749.7 475.1 L1750.5 473.3 L1750.2 472.6 L1750.1 468.7 L1750.6 468.7 L1751.6 467.1 L1750.4 463.3 L1751.6 463.1 L1751.9 463.1 L1752 456.6 L1752.2 456.7 L1751.2 452.8 L1752.3 451 L1751.2 449.2 L1752.6 448.2 L1752.5 444.2 L1752.1 443.4 L1751.8 443.1 L1752.2 438.3 L1753.3 438.1 L1752.1 433.6 L1753 434.2 L1752.1 431.9 L1753 430 L1753.9 428.1 L1753.6 425.7 L1754.7 424.4 L1754.4 423.1 L1756.2 420.6 L1756.6 416.6 L1757.1 413.5 L1757 413 L1757.8 415.5 L1760.1 414.8 L1760.3 416.6 L1762 421 L1762 421.1 L1761.6 426.3 L1762.3 429.3 L1762.1 430 L1761.5 433.4 L1761.9 433 L1762.4 437.5 L1762.4 439.7 L1762.7 437.7 L1763.1 439.6 L1763.4 443 L1762.2 447.6 L1762.4 446.8 L1762.5 450.1 L1762.1 450.6 L1762.3 455 L1762.1 455.9 L1762.6 457.1 L1763.2 460.5 L1762.5 460 L1762.6 465.8 L1762.7 463.5 L1763.3 467.8 L1764 467.1 L1763 469.7 L1763.6 473.2 L1763.4 477.5 L1763.8 479.4 L1764.3 478.3 L1764.4 481.1 L1763 485.7 L1763.1 483.1 L1763.5 486.5 L1764.6 491.6 L1763.8 491.8 L1764.6 495.3 L1764.3 495.8 L1763.5 496.4 L1764.4 500.2 L1764.7 503.8 L1765 502.2 L1763.7 507.8 L1764.5 506.1 L1764.8 508.5 L1764.1 511.1 L1764.6 514.8 L1763.9 517.1 L1764.9 517.7 L1765 521.5 L1764 521.8 L1765.1 525 L1765.1 524.3 L1765.7 529.5 L1765 530 L1764.6 531.6 L1765.8 532.5 L1765 538.4 L1765.9 536.6 L1765.7 539.3 L1765.6 543.4 L1764.8 542.6 L1765 544.8 L1764.8 546.1 L1765.4 549.6 L1764.9 552.4 L1766.4 554.4 L1765.5 557.1 L1765.7 556.3 L1765.8 557.5 L1766.2 560.2 L1765.8 566.4 L1766.4 567.7 L1766.3 568.7 L1766.5 572.4 L1765.7 573.4 L1765.9 572.7 L1766.8 576.5 L1766.9 580 L1766.6 578.4 L1765.7 582.2 L1766.9 582.8 L1765.9 583.4 L1766.1 589 L1765.9 588.6 L1766.4 593.1 L1767.6 591.5 L1766.3 598.3 L1767.7 596.2 L1766.7 600.1 L1766.7 601.6 L1767.1 602.7 L1766.4 603.8 L1766.7 605.9 L1767.5 611 L1766.9 613.5 L1767.7 613.2 L1767.4 614.4 L1768.2 618.3 L1766.8 618.2 L1767.9 621.4 L1768 622.6 L1768.2 627.6 L1767.1 628.4 L1767.3 631.1 L1768.4 633.5 L1767.5 631.9 L1768 636 L1770.4 633 L1770.7 631.3 L1769.9 627.4 L1770.6 624.9 L1770.7 623.6 L1770.1 622.5 L1770.6 622.1 L1769.8 620.1 L1770.1 615.8 L1770.8 615.9 L1770.8 614.9 L1770.2 609.9 L1771 607.6 L1770.2 605.4 L1771.2 606.5 L1771.1 605.2 L1771.3 599.8 L1770.5 599.9 L1770.1 597.3 L1770.2 592.4 L1770.9 590.9 L1771.6 592.6 L1770.9 587.1 L1770.3 586.7 L1771 583.9 L1771.4 582.8 L1771.5 578.6 L1770.4 578 L1771.1 575.3 L1771.4 573.1 L1770.8 572.4 L1771.5 571.9 L1771 568.2 L1771.9 568.8 L1771.4 562.4 L1771.2 563.2 L1770.9 558 L1772.1 560.6 L1770.7 556.2 L1771.5 553.4 L1770.7 553.7 L1771.8 550.1 L1770.8 547.8 L1770.8 548.8 L1770.7 543.2 L1771.9 540.4 L1770.9 538.1 L1771 538.5 L1772.1 534.6 L1771.1 535.6 L1771.5 531.4 L1771 528.9 L1772.4 526.2 L1771.3 527.4 L1772.3 526.3 L1771.7 524.5 L1771.9 519.1 L1771.7 519.3 L1772.2 514.2 L1771.3 516.5 L1771.2 513.7 L1771.6 508.8 L1771.5 507.9 L1772.7 504.2 L1772.5 503.1 L1771.5 503.3 L1772 500 L1771.8 496.4 L1771.9 497.7 L1772.6 494.4 L1771.3 493.4 L1772.3 492.1 L1772.8 487.1 L1772.7 487.7 L1771.8 483.3 L1772 481.2 L1772 478 L1771.8 480.1 L1772.1 476.7 L1772.9 475.3 L1771.9 474.2 L1772.8 472.6 L1772.7 469.3 L1772.8 464.7 L1772.6 463.4 L1772.9 460.1 L1772.5 459.1 L1772.9 457.2 L1773 457.8 L1773.1 452.1 L1773.2 453.3 L1772.8 450.8 L1771.8 449.9 L1772.6 445.8 L1772.3 445.5 L1773 443.9 L1772.1 439.2 L1772.2 435.9 L1772.4 433.5 L1773.1 432.6 L1772 429.8 L1773.1 428.4 L1772.7 427.5 L1773.2 428.4 L1772.5 424.7 L1773.4 421.8 L1773.4 421.2 L1772.5 419.9 L1773 414 L1773 415.7 L1772.9 411.9 L1772.8 412 L1773.2 406.5 L1772.7 405.3 L1773.7 405 L1772.4 404.2 L1773 400 L1772.3 398.5 L1772.9 397.1 L1772.9 391.9 L1773.1 393.7 L1773.6 389.3 L1772.7 389.3 L1773.6 384.5 L1773.8 386.6 L1773.1 381.4 L1773.5 382.2 L1772.7 377 L1773 377.2 L1772.8 374.2 L1773.3 372.9 L1772.7 372.4 L1774.1 368.3 L1773.8 364.4 L1774 364.3 L1773.8 363.9 L1773.2 362.2 L1773 355.5 L1773.4 358.1 L1774.1 356.4 L1773.5 354.2 L1773.6 348.1 L1773.7 349.6 L1773.4 346.5 L1773.2 342.8 L1773.5 342.1 L1773.5 337.9 L1772.8 337.2 L1774 337.3 L1773.2 332.7 L1773.7 330.3 L1773.9 332.1 L1773.2 328.4 L1774.1 327.3 L1774.1 325.1 L1773.4 323.8 L1774.5 317.7 L1774.5 317.7 L1773.2 313.8 L1774.3 314.9 L1773.3 311.8 L1774.1 312.6 L1773.7 309.4 L1773.5 304.4 L1773.4 303.5 L1774.2 301 L1774 300 L1773.6 296.5 L1773.6 294.4 L1774.2 294 L1774.1 291.9 L1774.7 292.5 L1774.9 290.3 L1775 284.4 L1775.4 282.2 L1774.9 279.8 L1775.9 282.4 L1775.5 277.2 L1775.7 275.2 L1776 274 L1776.4 271.4 L1775.7 271.9 L1776.5 265.4 L1777.1 267.2 L1776.5 264.7 L1777.5 261.5 L1776.9 259 L1777.2 258.8 L1777.6 258.3 L1776.8 253.3 L1778.1 253.5 L1777.8 250.9 L1777.6 250.3 L1778.1 245.5 L1777.6 242 L1778.9 243.6 L1778.4 240 L1777.9 237 L1779 235.8 L1779.1 235.8 L1779.4 231.8 L1780.6 230.3 L1780.2 226.6 L1780.3 226 L1781.3 222.1 L1780.9 220.7 L1781.2 221.3 L1781.8 215.9 L1782 215 L1782.4 214.7 L1782.7 212.1 L1783.2 207.6 L1783.9 208.8 L1784.6 203.9 L1785.1 202.1 L1786.5 201.4 L1788.4 200.7 L1790.2 200.1 L1791 196 L1793.1 199.1 L1794.3 200.1 L1797 198.8 L1798.9 198.9 L1801.4 204.1 L1803 204 L1804.1 203.9 L1806.1 209.3 L1806.9 212.5 L1808 212 L1807.8 211.7 L1808.4 213.5 L1809.8 218.7 L1809.4 218.2 L1810 222.6 L1811.3 226.4 L1811.3 228.5 L1812 228 L1812.3 229.5 L1812.5 230.8 L1814.1 236.9 L1814.1 234.8 L1813.7 236.7 L1814.4 241.9 L1814.4 242.9 L1815.8 242.5 L1816 247 L1816.3 250.6 L1816.9 250.9 L1817.8 253.7 L1817.3 254.7 L1818.6 259.2 L1819 259.7 L1818.1 259.7 L1818.9 264.5 L1818.7 267.1 L1820.3 267.7 L1819.4 271.2 L1820.5 272.6 L1821 273.8 L1821.4 273 L1821.4 272.2 L1822.5 270.1 L1822.3 264.9 L1822.2 262.7 L1823.3 263.4 L1823.4 261.6 L1824 258.9 L1823.2 257.3 L1823.3 254.6 L1824 252 L1824.8 251.4 L1826.7 247 L1829.3 244.8 L1832 245 L1835.4 242.5 L1837.4 244.3 L1840 247.5 L1840.6 249.5 L1843 250 L1845.6 253.1 L1848 252 L1848.6 253.8 L1849.7 254.2 L1849.9 256.4 L1849.6 258.7 L1851.1 262.5 L1851 265 L1851.7 265.7 L1852 269.8 L1851.3 271 L1852.6 271.5 L1852.7 273.8 L1852.6 279.2 L1853.8 281.6 L1853.3 281.4 L1854.2 284.3 L1854 285 L1854.1 288.9 L1854.2 291.3 L1854.5 289 L1855.1 291.2 L1855.1 292.7 L1855.8 297.2 L1855.6 297.1 L1855.6 300.4 L1855.1 304.6 L1854.9 304.9 L1855.2 308.8 L1856.6 306.6 L1856.1 310.8 L1856.7 314.2 L1856.2 317.3 L1856.2 315.1 L1857.3 317 L1857 321 L1856.7 318.9 L1857.1 315.1 L1858.3 314.6 L1858.3 311.3 L1858.7 309.1 L1858.9 309 L1859.2 307.7 L1858.8 304.4 L1859.4 301.8 L1859 300 L1858.4 300.2 L1859.6 296.9 L1859.6 292.6 L1859.3 293.7 L1860.1 292.2 L1858.9 289 L1859.6 285.5 L1859.1 282.1 L1859.7 282 L1859.4 279.3 L1860 279.4 L1860.1 274.2 L1860.7 273.3 L1860.9 274.5 L1859.6 270.4 L1861 267.4 L1860.4 265 L1859.7 262.5 L1859.9 260.9 L1860.8 260.3 L1861.4 259 L1860.5 258.3 L1861.1 254.2 L1861.5 252.9 L1861 250 L1860.8 248.5 L1860.8 248.4 L1860.7 246.5 L1860.5 239.5 L1861.3 238.5 L1861.3 236 L1861.9 236.9 L1861.7 236.2 L1862.2 232.9 L1861.8 227.4 L1860.8 227.6 L1862.4 225 L1861.8 221.4 L1861.6 224.1 L1861.9 221.7 L1861 216.5 L1861.3 217.7 L1861.3 216.2 L1861.6 214 L1862 210 L1862.5 207 L1863.7 205.3 L1863.7 201.5 L1864.3 204.1 L1863.6 200.8 L1864.4 195.6 L1865 196.2 L1866.4 195.8 L1866.9 191.8 L1866.8 187.3 L1867 187 L1868.4 185.5 L1868.8 185.6 L1869.6 179.9 L1871 180 L1871.2 176.3 L1872.6 177.7 L1872.6 174.3 L1874 172.7 L1874.4 170.7 L1874.5 166.2 L1876 166.6 L1876.2 167.4 L1877.1 169.5 L1877.6 171.6 L1876.8 175 L1877.6 176.4 L1878.6 177.9 L1878.8 183.2 L1878.8 183.6 L1880 186.3 L1879.1 185.6 L1880 190 L1879.7 191.2 L1880.2 194.9 L1881.1 195.3 L1881.7 200.6 L1881.7 198.6 L1882.5 202.5 L1882.8 199.6 L1884.3 199.7 L1884.1 195 L1884 192.8 L1885.9 193.6 L1885.3 191.5 L1885.7 189 L1887 187 L1887.2 186.9 L1888.3 192.1 L1888.4 191.3 L1889 194.7 L1889.5 194.9 L1890.3 196.4 L1889.7 200.5 L1890.1 200.9 L1891 205 L1891.8 209.6 L1891.7 207.8 L1892.7 209.6 L1892.8 214 L1893.4 215 L1893.6 215.2 L1893.4 219.2 L1895.2 223.2 L1894.1 223 L1895 223.4 L1895.6 227 L1896.2 227.9 L1896.7 232.6 L1896.3 231.1 L1896.7 233.1 L1897.3 238 L1897.5 241.5 L1896.9 242.1 L1898 243 L1898.6 238.9 L1898 236.6 L1898.6 238 L1898.3 235.8 L1898.5 233.9 L1898.5 233.2 L1898.9 226.1 L1898.5 227.8 L1899.9 225.3 L1898.9 224.5 L1899.9 218.5 L1899.5 219.3 L1899.1 214 L1899.8 216.3 L1900.9 211.3 L1900.9 211.7 L1901 208.6 L1901.3 206.9 L1901.4 204.4 L1900.4 202.1 L1901 200 L1902 190.2 L1903.9 207.3 L1905.9 186.1 L1907.7 207.3 L1909.7 187.5 L1911.6 205.7 L1913.3 189.5 L1915.2 205.8 L1917.3 192.4 L1919.3 210.9 L1921.7 191.8 L1923.6 211.7 L1925.5 195 L1927.8 211.5 L1929.9 200.1 L1931.9 235.8 L1933.7 209.7 L1936 232.5 L1937.7 208.4 L1939.9 233.3 L1942.1 213 L1944.2 237.3 L1945.9 211.4 L1947.5 232.8 L1949.5 227.9 L1951.9 234.7 L1953.7 212.5 L1955.4 232.3 L1957.6 211.7 L1959.5 237.3 L1961.5 215.6 L1963.8 229.7 L1966 223.6" fill="none" stroke="#d80000" stroke-width="7" stroke-linejoin="round" stroke-linecap="round"/>
<path d="M420 380 L419.8 381.8 L419.3 384.9 L418.7 385.3 L419.2 388.8 L421.8 389.7 L421.8 392.8 L420 393.4 L421.5 395.7 L418.7 398.8 L420.1 399.8 L420.9 401.5 L418.4 403.8 L420 405 L420 408.5 L419.9 410.4 L421.2 411.4 L418.6 414.3 L421.2 415.6 L419.4 418.7 L422.6 419.5 L421.2 422.1 L420.1 423.1 L420.2 426.3 L421.4 428 L421 430 L419.4 431.4 L420.4 433.8 L420.7 436.8 L419.7 439 L420.4 440.7 L420.5 442.2 L421.2 443.1 L423.1 446.6 L420.9 448.6 L421.9 451 L420.1 451.8 L421 454.2 L423.5 456.7 L422.6 457.8 L423.8 459.2 L421.5 462.5 L422.4 465 L421 465.9 L421.6 467 L423 470 L421.5 471.3 L422.9 474.1 L423.8 476 L424.9 478.5 L426.4 480 L424.5 482.7 L424.2 485.6 L425 487 L424.1 489.8 L425 490.7 L426.5 493.1 L425.4 494.2 L428.7 496.7 L425.3 499.3 L427.5 500.7 L426.9 503.7 L428 505 L427.5 506.9 L430.5 508.9 L428.3 510.6 L429.7 513.7 L429 515.2 L428.3 518.1 L429.6 520.2 L429.4 522.1 L428.2 523.2 L432.5 526.2 L431.5 527.9 L431 530 L431.2 531.4 L430.2 534.3 L432.9 535.5 L433 537.3 L433.2 539.3 L433 541.6 L433.6 543.3 L433.6 546.2 L434 548 L432.5 549.6 L435 552.1 L434.9 554.6 L434.8 555.4 L434.4 558.7 L435 560.5 L434.3 561.9 L437.1 564.6 L435.8 565.2 L435.7 567.1 L437.3 570.9 L436.5 571.5 L437.1 573.4 L437.2 576 L433.7 578.8 L436 580 L436.1 582.7 L437.5 584.2 L438.6 585.7 L439.1 588 L435.6 590.1 L436.1 591.6 L438.9 593.8 L437.2 596.3 L438 599.6 L441.1 601.6 L441.8 602.8 L440 605 L441.5 606.6 L442.2 609.7 L441.6 610.6 L438.9 614.1 L441.1 615.5 L442.7 616.6 L442.1 619.3 L442.7 621.4 L440.3 624.4 L440.8 626.1 L443.4 627.1 L443 629.5 L441.1 631.2 L444.5 633.6 L442.7 635.9 L440.7 638.4 L443 640 L444.3 642.8 L442.9 643.4 L443.1 646.5 L444.8 647.8 L444.4 649.3 L446.4 651.9 L444.9 654.6 L443.8 656.4 L444.8 658.6 L443.9 659.6 L446.5 662 L445.7 664.2 L445.2 665.9 L444.5 668.6 L447 670 L446.1 672.7 L447.5 674.2 L448 675.3 L448.8 677.6 L449.3 680.6 L448.6 682.6 L447.7 684.3 L450.1 685.4 L446.4 687.8 L448.4 689.3 L447.2 692.7 L448.1 693.3 L447.3 696.2 L447.5 698 L449 700 L449.6 702 L449.9 705 L448.2 707.3 L449.4 707.6 L452.3 710.9 L451.7 712.3 L452 715 L453.5 716.6 L453.6 718.5 L453.2 721.3 L452.6 723 L451.6 725.3 L454.6 726.3 L454.3 729.5 L452.6 731.7 L456.3 732.1 L455 735 L454 736.2 L454.2 738.2 L455.4 740.5 L454.7 742.9 L455.1 745.6 L456.8 746.2 L454.7 748 L455.3 750.2 L457.1 753.6 L458.5 754.4 L454.4 757.5 L456.2 759.9 L456.3 760.6 L455 763.9 L457 765 L457.1 767 L456.9 769.7 L458.7 771.2 L455.9 773.1 L459.1 775.2 L458.1 777.5 L457.3 779.6 L456.4 781.7 L459.2 782.8 L457.1 786.5 L459.9 786.8 L458.4 790.1 L459.4 791.9 L458 794 L456.8 795.6 L459.8 798.5 L458 800.3 L460.5 802.3 L458.1 803.9 L459.9 806.2 L460.4 807.3 L462.3 809.6 L462 812 L463.7 813.6 L463.1 816.6 L461.6 818.5 L461.9 820.9 L462.1 822.4 L464.1 823.4 L464.6 826 L465.2 827.2 L466 830 L466.4 831.6 L468.6 833.8 L466.5 835.5 L469.2 837.6 L468 840.7 L467.2 842.5 L466.9 843.2 L466.2 845.9 L470.1 847.4 L468.5 850.5 L469 852 L468.2 853.3 L469.5 855.9 L471.6 858.8 L468.7 860.1 L469.7 861.1 L470.1 864.8 L469.7 866.2 L471.7 867.1 L471 870 L473.1 871.3 L470.6 874.7 L469.6 876.1 L470.2 878.4 L470 879.9 L471.1 881.8 L470.8 884.2 L472.9 886.2 L473 889 L474.8 890.8 L472.7 892.5 L475.6 894.1 L475.6 896.2 L476.8 898.8 L475.7 901.7 L473.9 902.1 L476 905 L477.1 907.3 L477.5 908.8 L476.8 910.8 L476.9 913.1 L477.8 915.3 L476.7 918.1 L478 920 L476.7 922.7 L479.1 923.7 L478 926.4 L480.3 929 L480.3 930.5 L483.2 932.4 L482 935 L484.6 938 L485.2 940.2 L482.4 942.1 L484.5 943.1 L486.7 946.1 L485 948 L487.2 950.1 L484.8 952.7 L486.1 953.5 L488.8 955.4 L489 958.4 L490 960 L488.9 962.5 L489.7 964.2 L492.8 966.8 L490.8 968 L495.6 970.5 L494 972.6 L495 975 L496.4 977.6 L496.7 979.1 L496.8 981.5 L495.6 984.6 L499.5 986.4 L498 988 L500.3 989.9 L499.7 991.5 L499.3 994.4 L500.3 996.7 L500.1 997.5 L499.8 1000 L497.8 1001.7 L500 1004.7 L500.3 1006.3 L497.5 1007.3 L499 1010 L499.4 1011.4 L498.5 1013.2 L497.8 1016.4 L498.2 1018.7 L498.7 1020.7 L498.7 1021.5 L499.2 1023 L499.5 1025.8 L497.8 1028.7 L500 1030 L499.5 1031.1 L502.2 1033.6 L499.2 1035.3 L498.6 1038.8 L500.8 1040.5 L499.4 1042.1 L502.7 1044.4 L502.9 1047.5 L499.2 1049.5 L498.8 1051.3 L501 1053 L502.8 1055.4 L502.1 1057.6 L500.8 1059.1 L501.8 1060.8 L501.9 1063.4 L504 1065.6 L504.7 1067.2 L506.5 1069.6 L505.4 1070.7 L507.4 1072.7 L506 1075 L504.6 1076.7 L507.7 1079.9 L507.8 1081.3 L509.5 1083.6 L507.8 1084.9 L509.5 1086.6 L507.1 1089.2 L510.6 1090.5 L510.4 1093.8 L510 1095 L509.2 1096.3 L511.6 1098.7 L514.4 1102 L513 1103.6 L514 1105 L515 1106.5 L516.9 1108.6 L513.4 1111.3 L513.6 1113.5 L515.8 1116.6 L516.2 1118.6 L517 1120 L518.4 1122.2 L516.2 1123.6 L517.6 1125.8 L518.4 1128 L517.2 1130.2 L520.4 1131.4 L517.7 1133 L516.8 1135.1 L518.5 1138.7 L519 1140 L519.9 1143 L520.6 1144.3 L519.6 1145.3 L518.8 1147.8 L519.9 1149.5 L519.6 1152.2 L519.5 1154.3 L517.9 1157.1 L521 1158.9 L518.1 1161 L521.5 1163.8 L521.1 1164 L520 1167 L521.8 1165.3 L519.4 1163.7 L521.9 1161.6 L519.6 1158.9 L520.3 1156.3 L522.1 1154.9 L520.4 1152.7 L523.2 1150.7 L523.3 1148.6 L523.8 1145.5 L521.7 1144.5 L523 1143.3 L522.7 1140.2 L522.9 1138.3 L523.4 1137.1 L520.5 1133.8 L524.5 1131.2 L523 1130 L524.4 1127.1 L523.9 1126.6 L522.2 1123.8 L522.2 1122.4 L523.6 1120.2 L522.9 1118.2 L525.7 1116.6 L525.8 1113.5 L524 1111.8 L523.4 1110.6 L522.7 1108.1 L525.4 1106.9 L522.2 1103.5 L524.4 1102.9 L523.1 1100.7 L524.2 1098.1 L526.6 1095.1 L524.1 1093.3 L523.4 1091.6 L526 1090.2 L523.5 1088.6 L525.3 1085.3 L526.8 1084.6 L524.2 1082.9 L527 1079.5 L523.5 1078.7 L527.2 1075.2 L527.1 1074.5 L526 1072 L527 1074.7 L529 1075.7 L528.8 1078.8 L527 1080.4 L529 1082.7 L529 1083.6 L528 1086.1 L528 1088.7 L530 1090 L531.9 1091.5 L531.3 1094.3 L529 1096.6 L532 1097.6 L529.3 1099.6 L532.5 1101.9 L532.9 1103.3 L530 1105.7 L533.6 1107.3 L530.3 1110.5 L530.6 1112.3 L530.7 1113.5 L533.5 1116.7 L533 1118 L532.9 1119.9 L531.4 1121.7 L532.6 1124.6 L534.9 1126.6 L534.4 1128.4 L532.9 1129.8 L533.8 1131.6 L536.1 1133.4 L534.5 1135.6 L537.1 1138.3 L535.7 1139.8 L536 1142 L538.3 1140.9 L536.6 1138.1 L538.8 1135.5 L536.5 1133.2 L538 1132.5 L536.9 1129.9 L541 1128 L538.7 1126.7 L541.3 1123.8 L540 1122 L538.7 1120.3 L541.7 1118.8 L541.7 1115.6 L541.4 1113.6 L541.4 1111.9 L543.8 1110.8 L544.2 1108 L544.7 1105.3 L544.9 1104.3 L545 1101.8 L545.8 1099.1 L544 1098 L546 1096.6 L544.3 1094.7 L544.1 1092.5 L545.6 1089.8 L544.9 1088.6 L547.7 1085.2 L549.2 1083.4 L547 1081.8 L548 1080 L548.8 1078.8 L550.8 1076.3 L548.7 1073.2 L547.9 1072 L550.6 1069.9 L552.8 1067.8 L550.5 1065.8 L550.1 1064.9 L552 1062 L552.8 1060 L552.6 1057.3 L552.5 1055.7 L553.5 1054.5 L554.5 1050.9 L552.7 1048.7 L554.4 1047.8 L557.3 1044.6 L556 1043 L557.7 1040.7 L557 1038.8 L555.3 1035.7 L558.5 1034.8 L557.6 1033.1 L560 1029.7 L559 1028 L557.5 1026.1 L560.6 1023.4 L558.3 1022 L558.7 1020.5 L561.8 1017.6 L561.4 1015.5 L560.7 1013.4 L563.9 1011.9 L563 1010 L564.6 1007.7 L565.7 1006.2 L565.7 1003.8 L565.9 1001.4 L568.4 1000.3 L567 998 L567.5 996.3 L566 993.7 L566.9 992.7 L566.4 989.9 L570.5 988.6 L570.2 985.6 L568.4 984.4 L570 982 L569.5 980.3 L570.1 978.3 L571.4 976.3 L573.6 973.3 L574 970.4 L573.9 968.3 L572.8 966.9 L573 965 L574.6 962.5 L572.6 961.3 L574.5 959.1 L574.7 955.5 L576.3 953.7 L575.4 951.1 L576 950 L575.3 948.3 L577.8 946.3 L576.8 944.5 L578.1 941.4 L577.8 940.2 L579 937.4 L577.5 935.7 L576.9 933.7 L579 932 L580.4 930.2 L578.4 928.5 L578.6 926.5 L579.2 923.2 L580.1 922 L580.6 920.8 L582 918 L584.3 915.6 L583.8 914.4 L583.3 911.5 L585.3 910.9 L581.5 907.7 L583.2 905.4 L584 904.8 L582.6 902.7 L585 900 L584.3 896.9 L587.1 895.4 L584.2 893 L585.1 890.9 L584.4 889.1 L586.3 887.4 L585.3 885.5 L587.5 883.8 L585.8 882.1 L587.9 879.3 L586.7 876.7 L587 875 L585.5 873.7 L587.6 870 L589.1 869.5 L585.3 867.1 L586.3 864.7 L589 862.2 L587.6 860.7 L586.3 858.6 L587.4 857.2 L586.5 854.6 L585.9 851.6 L588 850 L586.5 847.2 L588.5 845.2 L589.8 842.9 L589.2 842.4 L587.2 839 L590.2 837.4 L591.1 835.1 L588.9 834.2 L588.8 832.2 L591.4 828.6 L590 828 L590 825 L588.6 823.7 L591.8 821.5 L591.3 818.2 L593.2 816.2 L592.7 815.4 L591 813.4 L591.7 811.5 L590.4 809.9 L592.2 807.6 L593 805 L593.7 803.4 L593.7 800.7 L593.3 798.4 L594.3 796.9 L597 794 L598.4 791.7 L600.4 790.7 L601 786.8 L600.6 786 L600.8 782.5 L602.9 781.2 L602.1 779.9 L601.3 776.2 L603 775 L606.2 772.9 L603.6 770.9 L607 770 L609.4 768.5 L606.3 765.3 L609.5 764.3 L608.4 761.3 L608 760.9 L606.4 757.8 L606.9 757 L607.4 754.9 L610.9 752.5 L607.7 750.4 L609.9 748 L608.6 746 L611.8 743.3 L612.4 741.8 L611 740 L610.1 737.4 L611 736.1 L611.6 734.5 L611.4 731.7 L613.6 729 L609.4 727.2 L610.8 724.7 L611.3 722.4 L613.6 721.2 L613.5 719.6 L612.9 717.6 L612 715 L611.3 713.3 L611 710.8 L612.8 709.1 L611.1 706.1 L614.1 704.9 L615 701.4 L613 700 L612.1 697.2 L614.8 696.5 L614.9 694.6 L614.7 692.1 L616.9 690.3 L616.1 688.2 L615.8 686.5 L616.5 683.3 L616.3 681.8 L617 680 L617.4 678.1 L617.7 675.8 L618.7 673.7 L621.7 671.2 L618.2 670.4 L621 668 L620.9 665.9 L622.1 663.7 L620.9 661 L624 660.9 L621.7 657.9 L622.2 655.1 L625.1 654.7 L622.5 651.5 L624 650 L625.1 648.5 L624.4 645.6 L623.6 644.3 L626.6 642.4 L623.6 639.8 L627.6 637.9 L625.6 634.7 L624.1 633.8 L624.4 631.9 L627.2 629.1 L628.5 627.9 L627 625 L627.9 622.1 L628.2 620.6 L627.2 619.4 L629.7 615.7 L628 614 L629.9 611.8 L630 610 L630.2 608.6 L629.5 606.4 L630.6 604.9 L633.8 601.7 L632.7 599.2 L632.3 598.2 L633.7 595.7 L631.5 593.2 L634 592 L634.8 589.3 L634.1 588.2 L637.3 586 L634.9 584.2 L635.5 582.6 L637 580 L635.7 577.4 L637.2 576.6 L636.3 573.1 L636.4 571.1 L637.5 569.4 L639.6 567.3 L638.6 565.2 L640.2 564.1 L638.9 562.1 L638.4 560.1 L639.9 557.4 L640 555 L639.9 552.4 L639.1 551.5 L640.5 549 L641.3 546.6 L640.6 543.7 L641.5 542.6 L642.8 539.1 L643 538 L644.8 536 L642.9 533.8 L644.4 533 L646.7 530.2 L646.3 528.2 L647.3 526.4 L650.4 525.5 L650 523" fill="none" stroke="#d80000" stroke-width="9" stroke-linejoin="round" stroke-linecap="round"/>
<rect x="1964" y="218.4" width="93" height="3.8" fill="#e05a5a"/>
<rect x="1964" y="225.8" width="93" height="3.2" fill="#f09090"/>
<rect x="1964" y="221.8" width="93" height="4.2" fill="#c40000"/>
<line x1="287.6" y1="453" x2="287.6" y2="164" stroke="#000" stroke-width="3.4" stroke-dasharray="16.5 10.3"/>
<line x1="333.7" y1="549" x2="333.7" y2="142" stroke="#000" stroke-width="3.4" stroke-dasharray="16.5 10.3"/>
<line x1="383.3" y1="471" x2="383.3" y2="188" stroke="#000" stroke-width="3.4" stroke-dasharray="16.5 10.3"/>
<line x1="520.8" y1="1207" x2="520.8" y2="924" stroke="#000" stroke-width="3.4" stroke-dasharray="16.5 10.3"/>
<line x1="745.8" y1="831" x2="745.8" y2="237" stroke="#000" stroke-width="3.4" stroke-dasharray="16.5 10.3"/>
<line x1="1054.9" y1="245" x2="1054.9" y2="119" stroke="#000" stroke-width="3.4" stroke-dasharray="16.5 10.3"/>
<line x1="1272.8" y1="267" x2="1272.8" y2="115" stroke="#000" stroke-width="3.4" stroke-dasharray="16.5 10.3"/>
<line x1="1424.5" y1="309" x2="1424.5" y2="120" stroke="#000" stroke-width="3.4" stroke-dasharray="16.5 10.3"/>
<line x1="1554.1" y1="378" x2="1554.1" y2="157" stroke="#000" stroke-width="3.4" stroke-dasharray="16.5 10.3"/>
<line x1="1596.9" y1="428" x2="1596.9" y2="180" stroke="#000" stroke-width="3.4" stroke-dasharray="16.5 10.3"/>
<line x1="1741.7" y1="648" x2="1741.7" y2="313" stroke="#000" stroke-width="3.4" stroke-dasharray="16.5 10.3"/>
<line x1="1772.9" y1="698" x2="1772.9" y2="363" stroke="#000" stroke-width="3.4" stroke-dasharray="16.5 10.3"/>
<line x1="1821.5" y1="346" x2="1821.5" y2="142" stroke="#000" stroke-width="3.4" stroke-dasharray="16.5 10.3"/>
<line x1="1859.8" y1="395" x2="1859.8" y2="138" stroke="#000" stroke-width="3.4" stroke-dasharray="16.5 10.3"/>
<line x1="1901.6" y1="325" x2="1901.6" y2="135" stroke="#000" stroke-width="3.4" stroke-dasharray="16.5 10.3"/>
<polygon points="288.5,455 261.5,507.5 315.5,507.5" fill="#000"/><polygon points="288.5,470.3 273,500.5 304,500.5" fill="#fff"/>
<polygon points="330.3,553 303.8,607 356.8,607" fill="#000"/><polygon points="330.3,568.9 315,600 345.6,600" fill="#fff"/>
<polygon points="384,476 357.5,527 410.5,527" fill="#000"/><polygon points="384,491.2 369,520 399,520" fill="#fff"/>
<rect x="496.3" y="1209.7" width="37.6" height="34.3" fill="#000"/><rect x="503.3" y="1216.7" width="23.6" height="20.3" fill="#fff"/>
<circle cx="517.2" cy="1282.2" r="16" fill="#000"/>
<rect x="728.9" y="843.6" width="34.2" height="34.5" fill="#000"/><rect x="736.4" y="851.1" width="19.2" height="19.5" fill="#fff"/>
<polygon points="1055,260.4 1030.4,305.9 1079.6,305.9" fill="#000"/>
<polygon points="1274.6,280 1297.3,302.3 1274.6,324.6 1251.9,302.3" fill="#000"/>
<polygon points="1427,329.3 1449.2,351.6 1427,373.9 1404.8,351.6" fill="#000"/>
<rect x="1526.6" y="386.2" width="37.5" height="37.9" fill="#000"/><rect x="1533.6" y="393.2" width="23.5" height="23.9" fill="#fff"/>
<circle cx="1601" cy="472" r="17" fill="#000"/>
<polygon points="1742,650 1767,674.5 1742,699 1717,674.5" fill="#000"/><polygon points="1742,660.5 1756.3,674.5 1742,688.5 1727.7,674.5" fill="#fff"/>
<polygon points="1771.4,702 1796.9,727 1771.4,752 1745.9,727" fill="#000"/><polygon points="1771.4,712.5 1786.2,727 1771.4,741.5 1756.6,727" fill="#fff"/>
<rect x="1804.8" y="363.3" width="30.8" height="30" fill="#000"/>
<rect x="1846.9" y="408.8" width="30.5" height="30.2" fill="#000"/>
<rect x="1889" y="332.8" width="30.5" height="33.9" fill="#000"/>
<rect x="195.4" y="24.1" width="3.5" height="1592.9" fill="#b6b6b6"/>
<rect x="202.4" y="30.9" width="3.6" height="1556.4" fill="#7f7f7f"/>
<rect x="198.9" y="27.2" width="3.5" height="1586.8" fill="#000"/>
<rect x="198.9" y="1614" width="3.5" height="3.5" fill="#999"/>
<rect x="198.9" y="24.1" width="1858.2" height="3.1" fill="#a2a2a2"/>
<rect x="206" y="30.9" width="1851.1" height="3.7" fill="#878787"/>
<rect x="198.9" y="27.2" width="1865.2" height="3.7" fill="#000"/>
<rect x="2057.1" y="27.2" width="7" height="1586.8" fill="#0a0a0a"/>
<rect x="2057.1" y="1614" width="7" height="3.5" fill="#b0b0b0"/>
<rect x="195.4" y="1587.3" width="1868.7" height="7.7" fill="#050505"/>
<rect x="206" y="1595" width="1851" height="2" fill="#efefef"/>
<rect x="206" y="1519.1" width="1762" height="7" fill="#0a0a0a"/>
<rect x="1968" y="1519.1" width="89.1" height="3.8" fill="#9a9a9a"/>
<rect x="1965.5" y="1522.9" width="91.6" height="3.5" fill="#000"/>
<rect x="1965.5" y="1526.4" width="91.6" height="3.5" fill="#8a8a8a"/>
<rect x="328.6" y="1595" width="3.8" height="14.8" fill="#999"/>
<rect x="336" y="1595" width="3.8" height="14.8" fill="#8c8c8c"/>
<rect x="332.4" y="1595" width="3.6" height="14.8" fill="#000"/>
<rect x="332.4" y="1609.8" width="3.6" height="3.5" fill="#a8a8a8"/>
<rect x="461.3" y="1595" width="3.8" height="18.7" fill="#999"/>
<rect x="468.7" y="1595" width="3.8" height="18.7" fill="#8c8c8c"/>
<rect x="465.1" y="1595" width="3.6" height="18.7" fill="#000"/>
<rect x="465.1" y="1613.7" width="3.6" height="3.5" fill="#a8a8a8"/>
<rect x="594.1" y="1595" width="3.8" height="14.8" fill="#999"/>
<rect x="601.5" y="1595" width="3.8" height="14.8" fill="#8c8c8c"/>
<rect x="597.9" y="1595" width="3.6" height="14.8" fill="#000"/>
<rect x="597.9" y="1609.8" width="3.6" height="3.5" fill="#a8a8a8"/>
<rect x="726.9" y="1595" width="3.8" height="18.7" fill="#999"/>
<rect x="734.3" y="1595" width="3.8" height="18.7" fill="#8c8c8c"/>
<rect x="730.7" y="1595" width="3.6" height="18.7" fill="#000"/>
<rect x="730.7" y="1613.7" width="3.6" height="3.5" fill="#a8a8a8"/>
<rect x="859.7" y="1595" width="3.8" height="14.8" fill="#999"/>
<rect x="867.1" y="1595" width="3.8" height="14.8" fill="#8c8c8c"/>
<rect x="863.5" y="1595" width="3.6" height="14.8" fill="#000"/>
<rect x="863.5" y="1609.8" width="3.6" height="3.5" fill="#a8a8a8"/>
<rect x="992.4" y="1595" width="3.8" height="18.7" fill="#999"/>
<rect x="999.8" y="1595" width="3.8" height="18.7" fill="#8c8c8c"/>
<rect x="996.2" y="1595" width="3.6" height="18.7" fill="#000"/>
<rect x="996.2" y="1613.7" width="3.6" height="3.5" fill="#a8a8a8"/>
<rect x="1125.2" y="1595" width="3.8" height="14.8" fill="#999"/>
<rect x="1132.6" y="1595" width="3.8" height="14.8" fill="#8c8c8c"/>
<rect x="1129" y="1595" width="3.6" height="14.8" fill="#000"/>
<rect x="1129" y="1609.8" width="3.6" height="3.5" fill="#a8a8a8"/>
<rect x="1258" y="1595" width="3.8" height="18.7" fill="#999"/>
<rect x="1265.4" y="1595" width="3.8" height="18.7" fill="#8c8c8c"/>
<rect x="1261.8" y="1595" width="3.6" height="18.7" fill="#000"/>
<rect x="1261.8" y="1613.7" width="3.6" height="3.5" fill="#a8a8a8"/>
<rect x="1390.8" y="1595" width="3.8" height="14.8" fill="#999"/>
<rect x="1398.2" y="1595" width="3.8" height="14.8" fill="#8c8c8c"/>
<rect x="1394.6" y="1595" width="3.6" height="14.8" fill="#000"/>
<rect x="1394.6" y="1609.8" width="3.6" height="3.5" fill="#a8a8a8"/>
<rect x="1523.5" y="1595" width="3.8" height="18.7" fill="#999"/>
<rect x="1530.9" y="1595" width="3.8" height="18.7" fill="#8c8c8c"/>
<rect x="1527.3" y="1595" width="3.6" height="18.7" fill="#000"/>
<rect x="1527.3" y="1613.7" width="3.6" height="3.5" fill="#a8a8a8"/>
<rect x="1656.3" y="1595" width="3.8" height="14.8" fill="#999"/>
<rect x="1663.7" y="1595" width="3.8" height="14.8" fill="#8c8c8c"/>
<rect x="1660.1" y="1595" width="3.6" height="14.8" fill="#000"/>
<rect x="1660.1" y="1609.8" width="3.6" height="3.5" fill="#a8a8a8"/>
<rect x="1789.1" y="1595" width="3.8" height="18.7" fill="#999"/>
<rect x="1796.5" y="1595" width="3.8" height="18.7" fill="#8c8c8c"/>
<rect x="1792.9" y="1595" width="3.6" height="18.7" fill="#000"/>
<rect x="1792.9" y="1613.7" width="3.6" height="3.5" fill="#a8a8a8"/>
<rect x="1921.8" y="1595" width="3.8" height="14.8" fill="#999"/>
<rect x="1929.2" y="1595" width="3.8" height="14.8" fill="#8c8c8c"/>
<rect x="1925.6" y="1595" width="3.6" height="14.8" fill="#000"/>
<rect x="1925.6" y="1609.8" width="3.6" height="3.5" fill="#a8a8a8"/>
<text x="201.4" y="1711.5" class="tk">4000</text>
<text x="466.9" y="1711.5" class="tk">3500</text>
<text x="732.5" y="1711.5" class="tk">3000</text>
<text x="998" y="1711.5" class="tk">2500</text>
<text x="1263.6" y="1711.5" class="tk">2000</text>
<text x="1529.1" y="1711.5" class="tk">1500</text>
<text x="1794.7" y="1711.5" class="tk">1000</text>
<text x="2060.2" y="1711.5" class="tk">500</text>
<text x="727" y="1831" class="xt" transform="translate(0,1831) scale(1,1.045) translate(0,-1831)">Wavelength (cm<tspan x="1447" y="1809" font-size="86" letter-spacing="0">-</tspan><tspan x="1473" y="1804" font-size="66" letter-spacing="0">1</tspan><tspan x="1509" y="1831" letter-spacing="0">)</tspan></text>
<text transform="translate(107,811) rotate(-90) scale(1,1.06)" x="0" y="0" class="yt">Reflectance (a.u.)</text>
<text x="2030" y="122.4" class="tl">a-C coated 301LN</text>
<text x="2025" y="1488" class="tl">Reference 301LN</text>
<text x="510.3" y="1377.5" class="an">3410</text>
<text x="751.3" y="953.5" class="an">2980</text>
<text x="1069.3" y="374.8" class="an">2362</text>
<text transform="translate(282.5,599) rotate(-90)" class="an">3820</text>
<text transform="translate(358,700.5) rotate(-90)" class="an">3750</text>
<text transform="translate(421,620.5) rotate(-90)" class="an">3670</text>
<text transform="translate(1294.5,423) rotate(-90)" class="an">1984</text>
<text transform="translate(1456,469) rotate(-90)" class="an">1775</text>
<text transform="translate(1572.5,519.3) rotate(-90)" class="an">1468</text>
<text transform="translate(1630,584.5) rotate(-90)" class="an">1416</text>
<text transform="translate(1736,774.7) rotate(-90)" class="an">1098</text>
<text transform="translate(1804,838) rotate(-90)" class="an">1056</text>
<text transform="translate(1834.6,468) rotate(-90)" class="an">949</text>
<text transform="translate(1889,505.8) rotate(-90)" class="an">981</text>
<text transform="translate(1946.3,437.5) rotate(-90)" class="an">804</text>
<rect x="1040.3" y="644.4" width="312.2" height="692" fill="#fff" stroke="#000" stroke-width="3.5"/>
<rect x="1080" y="683.6" width="34.6" height="38.2" fill="#000"/><rect x="1087.6" y="691.2" width="19.4" height="23" fill="#fff"/>
<rect x="1083.9" y="782.7" width="30.7" height="34" fill="#000"/>
<polygon points="1097,869.2 1122.5,895.7 1097,922.2 1071.5,895.7" fill="#000"/><polygon points="1097,879.3 1112.8,895.7 1097,912.1 1081.2,895.7" fill="#fff"/>
<polygon points="1099.3,973.5 1122.1,996.3 1099.3,1019.1 1076.5,996.3" fill="#000"/>
<polygon points="1099,1069.7 1076,1118 1122,1118" fill="#000"/>
<polygon points="1097.5,1160.6 1070,1214 1125,1214" fill="#000"/><polygon points="1097.5,1175.9 1081.5,1207 1113.5,1207" fill="#fff"/>
<circle cx="1099" cy="1282.5" r="15.5" fill="#000"/>
<text x="1149.5" y="732.3" class="lg">C-H</text>
<text x="1149.5" y="826.3" class="lg">C=C</text>
<text x="1149.5" y="925.4" class="lg">C-O</text>
<text x="1149.5" y="1024.5" class="lg">C=O</text>
<text x="1149.5" y="1120.2" class="lg">CO<tspan font-size="55" dy="14">2</tspan></text>
<text x="1149.5" y="1215.1" class="lg">H<tspan font-size="55" dy="14">2</tspan><tspan dy="-14">O</tspan></text>
<text x="1149.5" y="1313.3" class="lg">O-H</text>
</svg>
</body></html>
